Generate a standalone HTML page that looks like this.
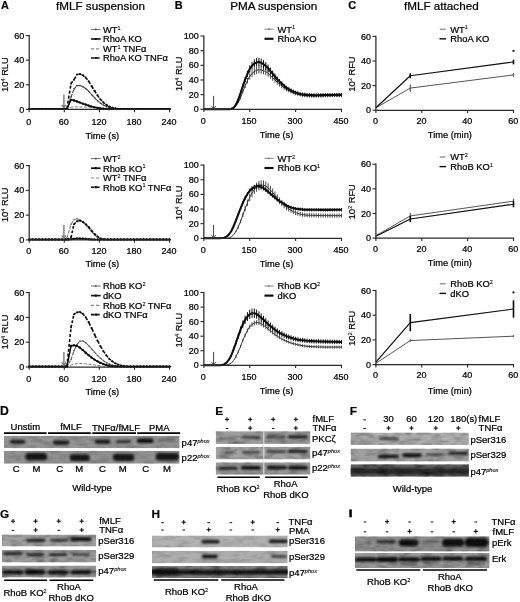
<!DOCTYPE html>
<html><head><meta charset="utf-8"><title>Figure</title>
<style>
html,body{margin:0;padding:0;background:#fff;}
body{width:520px;height:602px;overflow:hidden;font-family:"Liberation Sans",sans-serif;}
svg{display:block;font-family:"Liberation Sans",sans-serif;}
</style></head><body>
<svg width="520" height="602" viewBox="0 0 520 602">
<defs>
<filter id="bl" x="-20%" y="-50%" width="140%" height="200%"><feGaussianBlur stdDeviation="1.1 0.8"/></filter>
<filter id="noise" x="0" y="0" width="100%" height="100%"><feTurbulence type="fractalNoise" baseFrequency="0.09 0.22" numOctaves="2" seed="7"/><feColorMatrix type="matrix" values="0 0 0 0 0  0 0 0 0 0  0 0 0 0 0  1.1 1.1 0 0 -0.95"/></filter>
<filter id="soft" x="0" y="0" width="100%" height="100%"><feGaussianBlur stdDeviation="0.35"/></filter>
</defs>
<rect width="520" height="602" fill="#fff"/>
<g filter="url(#soft)">
<polyline points="29.20,108.97 32.46,108.97 35.73,108.97 38.99,108.97 42.26,108.97 45.52,108.97 48.79,108.97 52.05,108.97 55.31,108.97 58.58,108.97 61.84,108.97 65.11,108.97 66.93,109.03 71.03,107.31 73.95,106.94 76.88,106.94 79.80,106.94 82.73,106.94 85.65,107.06 88.58,107.19 91.50,107.31 94.43,107.56 97.35,107.80 100.28,108.17 103.20,108.54 106.13,108.91 107.54,108.97 110.81,108.97 114.07,108.97 117.34,108.97 120.60,108.97 123.86,108.97 127.13,108.97 130.39,108.97 133.66,108.97 136.92,108.97 140.19,108.97 143.45,108.97 146.71,108.97 149.98,108.97 153.24,108.97 156.51,108.97 159.77,108.97 163.04,108.97 166.30,108.97 169.56,108.97" fill="none" stroke="#777" stroke-width="1.0" stroke-dasharray="3 1.6" stroke-linejoin="round" />
<path d="M29.20,108.97L31.62,108.97 M32.46,108.97L34.88,108.97 M35.73,108.97L38.14,108.97 M38.99,108.97L41.41,108.97 M42.26,108.97L44.67,108.97 M45.52,108.97L47.94,108.97 M48.79,108.97L51.20,108.97 M52.05,108.97L54.47,108.97 M55.31,108.97L57.73,108.97 M58.58,108.97L60.99,108.97 M61.84,108.97L64.26,108.97 M65.11,108.97L66.46,108.83 M66.93,108.79L68.45,104.46 M68.98,102.94L70.50,98.62 M71.03,97.10L72.11,94.14 M72.49,93.10L73.57,90.14 M73.95,89.11L76.12,86.56 M76.88,85.66L79.04,85.48 M79.80,85.42L81.97,86.23 M82.73,86.52L84.89,87.98 M85.65,88.49L87.82,90.49 M88.58,91.20L90.74,93.56 M91.50,94.39L93.67,96.76 M94.43,97.59L96.59,99.78 M97.35,100.54L99.52,102.36 M100.28,103.00L102.44,104.46 M103.20,104.97L105.37,106.06 M106.13,106.45L108.29,107.18 M109.05,107.43L111.22,107.98 M111.98,108.17L114.14,108.53 M114.90,108.66L117.07,108.94 M117.83,109.03L119.88,108.99 M120.60,108.97L123.02,108.97 M123.86,108.97L126.28,108.97 M127.13,108.97L129.54,108.97 M130.39,108.97L132.81,108.97 M133.66,108.97L136.07,108.97 M136.92,108.97L139.34,108.97 M140.19,108.97L142.60,108.97 M143.45,108.97L145.87,108.97 M146.71,108.97L149.13,108.97 M149.98,108.97L152.39,108.97 M153.24,108.97L155.66,108.97 M156.51,108.97L158.92,108.97 M159.77,108.97L162.19,108.97 M163.04,108.97L165.45,108.97 M166.30,108.97L168.72,108.97" fill="none" stroke="#404040" stroke-width="1.15"/>
<rect x="28.45" y="108.22" width="1.50" height="1.50" rx="0.38" fill="#404040"/>
<rect x="31.71" y="108.22" width="1.50" height="1.50" rx="0.38" fill="#404040"/>
<rect x="34.98" y="108.22" width="1.50" height="1.50" rx="0.38" fill="#404040"/>
<rect x="38.24" y="108.22" width="1.50" height="1.50" rx="0.38" fill="#404040"/>
<rect x="41.51" y="108.22" width="1.50" height="1.50" rx="0.38" fill="#404040"/>
<rect x="44.77" y="108.22" width="1.50" height="1.50" rx="0.38" fill="#404040"/>
<rect x="48.04" y="108.22" width="1.50" height="1.50" rx="0.38" fill="#404040"/>
<rect x="51.30" y="108.22" width="1.50" height="1.50" rx="0.38" fill="#404040"/>
<rect x="54.56" y="108.22" width="1.50" height="1.50" rx="0.38" fill="#404040"/>
<rect x="57.83" y="108.22" width="1.50" height="1.50" rx="0.38" fill="#404040"/>
<rect x="61.09" y="108.22" width="1.50" height="1.50" rx="0.38" fill="#404040"/>
<rect x="64.36" y="108.22" width="1.50" height="1.50" rx="0.38" fill="#404040"/>
<rect x="66.18" y="108.04" width="1.50" height="1.50" rx="0.38" fill="#404040"/>
<rect x="70.28" y="96.35" width="1.50" height="1.50" rx="0.38" fill="#404040"/>
<rect x="73.20" y="88.36" width="1.50" height="1.50" rx="0.38" fill="#404040"/>
<rect x="76.13" y="84.91" width="1.50" height="1.50" rx="0.38" fill="#404040"/>
<rect x="79.05" y="84.67" width="1.50" height="1.50" rx="0.38" fill="#404040"/>
<rect x="81.98" y="85.77" width="1.50" height="1.50" rx="0.38" fill="#404040"/>
<rect x="84.90" y="87.74" width="1.50" height="1.50" rx="0.38" fill="#404040"/>
<rect x="87.83" y="90.45" width="1.50" height="1.50" rx="0.38" fill="#404040"/>
<rect x="90.75" y="93.64" width="1.50" height="1.50" rx="0.38" fill="#404040"/>
<rect x="93.68" y="96.84" width="1.50" height="1.50" rx="0.38" fill="#404040"/>
<rect x="96.60" y="99.79" width="1.50" height="1.50" rx="0.38" fill="#404040"/>
<rect x="99.53" y="102.25" width="1.50" height="1.50" rx="0.38" fill="#404040"/>
<rect x="102.45" y="104.22" width="1.50" height="1.50" rx="0.38" fill="#404040"/>
<rect x="105.38" y="105.70" width="1.50" height="1.50" rx="0.38" fill="#404040"/>
<rect x="108.30" y="106.68" width="1.50" height="1.50" rx="0.38" fill="#404040"/>
<rect x="111.23" y="107.42" width="1.50" height="1.50" rx="0.38" fill="#404040"/>
<rect x="114.15" y="107.91" width="1.50" height="1.50" rx="0.38" fill="#404040"/>
<rect x="117.08" y="108.28" width="1.50" height="1.50" rx="0.38" fill="#404040"/>
<rect x="119.85" y="108.22" width="1.50" height="1.50" rx="0.38" fill="#404040"/>
<rect x="123.11" y="108.22" width="1.50" height="1.50" rx="0.38" fill="#404040"/>
<rect x="126.38" y="108.22" width="1.50" height="1.50" rx="0.38" fill="#404040"/>
<rect x="129.64" y="108.22" width="1.50" height="1.50" rx="0.38" fill="#404040"/>
<rect x="132.91" y="108.22" width="1.50" height="1.50" rx="0.38" fill="#404040"/>
<rect x="136.17" y="108.22" width="1.50" height="1.50" rx="0.38" fill="#404040"/>
<rect x="139.44" y="108.22" width="1.50" height="1.50" rx="0.38" fill="#404040"/>
<rect x="142.70" y="108.22" width="1.50" height="1.50" rx="0.38" fill="#404040"/>
<rect x="145.96" y="108.22" width="1.50" height="1.50" rx="0.38" fill="#404040"/>
<rect x="149.23" y="108.22" width="1.50" height="1.50" rx="0.38" fill="#404040"/>
<rect x="152.49" y="108.22" width="1.50" height="1.50" rx="0.38" fill="#404040"/>
<rect x="155.76" y="108.22" width="1.50" height="1.50" rx="0.38" fill="#404040"/>
<rect x="159.02" y="108.22" width="1.50" height="1.50" rx="0.38" fill="#404040"/>
<rect x="162.29" y="108.22" width="1.50" height="1.50" rx="0.38" fill="#404040"/>
<rect x="165.55" y="108.22" width="1.50" height="1.50" rx="0.38" fill="#404040"/>
<rect x="168.81" y="108.22" width="1.50" height="1.50" rx="0.38" fill="#404040"/>
<polyline points="29.20,108.97 32.46,108.97 35.73,108.97 38.99,108.97 42.26,108.97 45.52,108.97 48.79,108.97 52.05,108.97 55.31,108.97 58.58,108.97 61.84,108.97 65.11,108.97 66.93,109.03 71.03,99.81 73.95,100.42 76.88,101.41 79.80,102.51 82.73,103.62 85.65,104.60 88.58,105.59 91.50,106.45 94.43,107.19 97.35,107.80 100.28,108.29 103.20,108.66 106.13,108.91 109.05,109.15 110.81,108.97 114.07,108.97 117.34,108.97 120.60,108.97 123.86,108.97 127.13,108.97 130.39,108.97 133.66,108.97 136.92,108.97 140.19,108.97 143.45,108.97 146.71,108.97 149.98,108.97 153.24,108.97 156.51,108.97 159.77,108.97 163.04,108.97 166.30,108.97 169.56,108.97" fill="none" stroke="#0a0a0a" stroke-width="1.55"  stroke-linejoin="round" />
<rect x="28.15" y="107.92" width="2.10" height="2.10" rx="0.53" fill="#0a0a0a"/>
<rect x="31.41" y="107.92" width="2.10" height="2.10" rx="0.53" fill="#0a0a0a"/>
<rect x="34.68" y="107.92" width="2.10" height="2.10" rx="0.53" fill="#0a0a0a"/>
<rect x="37.94" y="107.92" width="2.10" height="2.10" rx="0.53" fill="#0a0a0a"/>
<rect x="41.21" y="107.92" width="2.10" height="2.10" rx="0.53" fill="#0a0a0a"/>
<rect x="44.47" y="107.92" width="2.10" height="2.10" rx="0.53" fill="#0a0a0a"/>
<rect x="47.74" y="107.92" width="2.10" height="2.10" rx="0.53" fill="#0a0a0a"/>
<rect x="51.00" y="107.92" width="2.10" height="2.10" rx="0.53" fill="#0a0a0a"/>
<rect x="54.26" y="107.92" width="2.10" height="2.10" rx="0.53" fill="#0a0a0a"/>
<rect x="57.53" y="107.92" width="2.10" height="2.10" rx="0.53" fill="#0a0a0a"/>
<rect x="60.79" y="107.92" width="2.10" height="2.10" rx="0.53" fill="#0a0a0a"/>
<rect x="64.06" y="107.92" width="2.10" height="2.10" rx="0.53" fill="#0a0a0a"/>
<rect x="65.88" y="107.98" width="2.10" height="2.10" rx="0.53" fill="#0a0a0a"/>
<rect x="69.98" y="98.76" width="2.10" height="2.10" rx="0.53" fill="#0a0a0a"/>
<rect x="72.90" y="99.37" width="2.10" height="2.10" rx="0.53" fill="#0a0a0a"/>
<rect x="75.83" y="100.36" width="2.10" height="2.10" rx="0.53" fill="#0a0a0a"/>
<rect x="78.75" y="101.46" width="2.10" height="2.10" rx="0.53" fill="#0a0a0a"/>
<rect x="81.68" y="102.57" width="2.10" height="2.10" rx="0.53" fill="#0a0a0a"/>
<rect x="84.60" y="103.55" width="2.10" height="2.10" rx="0.53" fill="#0a0a0a"/>
<rect x="87.53" y="104.54" width="2.10" height="2.10" rx="0.53" fill="#0a0a0a"/>
<rect x="90.45" y="105.40" width="2.10" height="2.10" rx="0.53" fill="#0a0a0a"/>
<rect x="93.38" y="106.14" width="2.10" height="2.10" rx="0.53" fill="#0a0a0a"/>
<rect x="96.30" y="106.75" width="2.10" height="2.10" rx="0.53" fill="#0a0a0a"/>
<rect x="99.23" y="107.24" width="2.10" height="2.10" rx="0.53" fill="#0a0a0a"/>
<rect x="102.15" y="107.61" width="2.10" height="2.10" rx="0.53" fill="#0a0a0a"/>
<rect x="105.08" y="107.86" width="2.10" height="2.10" rx="0.53" fill="#0a0a0a"/>
<rect x="108.00" y="108.10" width="2.10" height="2.10" rx="0.53" fill="#0a0a0a"/>
<rect x="109.76" y="107.92" width="2.10" height="2.10" rx="0.53" fill="#0a0a0a"/>
<rect x="113.02" y="107.92" width="2.10" height="2.10" rx="0.53" fill="#0a0a0a"/>
<rect x="116.29" y="107.92" width="2.10" height="2.10" rx="0.53" fill="#0a0a0a"/>
<rect x="119.55" y="107.92" width="2.10" height="2.10" rx="0.53" fill="#0a0a0a"/>
<rect x="122.81" y="107.92" width="2.10" height="2.10" rx="0.53" fill="#0a0a0a"/>
<rect x="126.08" y="107.92" width="2.10" height="2.10" rx="0.53" fill="#0a0a0a"/>
<rect x="129.34" y="107.92" width="2.10" height="2.10" rx="0.53" fill="#0a0a0a"/>
<rect x="132.61" y="107.92" width="2.10" height="2.10" rx="0.53" fill="#0a0a0a"/>
<rect x="135.87" y="107.92" width="2.10" height="2.10" rx="0.53" fill="#0a0a0a"/>
<rect x="139.14" y="107.92" width="2.10" height="2.10" rx="0.53" fill="#0a0a0a"/>
<rect x="142.40" y="107.92" width="2.10" height="2.10" rx="0.53" fill="#0a0a0a"/>
<rect x="145.66" y="107.92" width="2.10" height="2.10" rx="0.53" fill="#0a0a0a"/>
<rect x="148.93" y="107.92" width="2.10" height="2.10" rx="0.53" fill="#0a0a0a"/>
<rect x="152.19" y="107.92" width="2.10" height="2.10" rx="0.53" fill="#0a0a0a"/>
<rect x="155.46" y="107.92" width="2.10" height="2.10" rx="0.53" fill="#0a0a0a"/>
<rect x="158.72" y="107.92" width="2.10" height="2.10" rx="0.53" fill="#0a0a0a"/>
<rect x="161.99" y="107.92" width="2.10" height="2.10" rx="0.53" fill="#0a0a0a"/>
<rect x="165.25" y="107.92" width="2.10" height="2.10" rx="0.53" fill="#0a0a0a"/>
<rect x="168.51" y="107.92" width="2.10" height="2.10" rx="0.53" fill="#0a0a0a"/>
<path d="M29.20,108.97L31.16,108.97 M32.46,108.97L34.42,108.97 M35.73,108.97L37.69,108.97 M38.99,108.97L40.95,108.97 M42.26,108.97L44.22,108.97 M45.52,108.97L47.48,108.97 M48.79,108.97L50.74,108.97 M52.05,108.97L54.01,108.97 M55.31,108.97L57.27,108.97 M58.58,108.97L60.54,108.97 M61.84,108.97L63.80,108.97 M65.11,108.97L66.20,108.86 M66.93,108.79L67.42,105.76 M67.75,103.74L68.24,100.72 M68.57,98.70L69.06,95.67 M69.39,93.66L69.88,90.63 M70.21,88.61L70.70,85.59 M71.03,83.57L72.78,81.36 M73.95,79.88L75.71,76.71 M76.88,74.59L78.63,74.22 M79.80,73.98L81.56,74.71 M82.73,75.21L84.48,76.53 M85.65,77.42L87.41,79.63 M88.58,81.11L90.33,83.91 M91.50,85.78L93.26,88.74 M94.43,90.70L96.18,93.43 M97.35,95.25L99.11,97.62 M100.28,99.19L102.03,101.04 M103.20,102.27L104.96,103.74 M106.13,104.73L107.88,105.76 M109.05,106.45L110.81,107.11 M111.98,107.56L113.73,108.00 M114.90,108.29L116.66,108.59 M117.83,108.79L119.58,108.93 M120.75,109.03L122.62,108.99 M123.86,108.97L125.82,108.97 M127.13,108.97L129.09,108.97 M130.39,108.97L132.35,108.97 M133.66,108.97L135.62,108.97 M136.92,108.97L138.88,108.97 M140.19,108.97L142.14,108.97 M143.45,108.97L145.41,108.97 M146.71,108.97L148.67,108.97 M149.98,108.97L151.94,108.97 M153.24,108.97L155.20,108.97 M156.51,108.97L158.47,108.97 M159.77,108.97L161.73,108.97 M163.04,108.97L164.99,108.97 M166.30,108.97L168.26,108.97" fill="none" stroke="#0a0a0a" stroke-width="1.6"/>
<rect x="28.30" y="108.07" width="1.80" height="1.80" rx="0.45" fill="#0a0a0a"/>
<rect x="31.56" y="108.07" width="1.80" height="1.80" rx="0.45" fill="#0a0a0a"/>
<rect x="34.83" y="108.07" width="1.80" height="1.80" rx="0.45" fill="#0a0a0a"/>
<rect x="38.09" y="108.07" width="1.80" height="1.80" rx="0.45" fill="#0a0a0a"/>
<rect x="41.36" y="108.07" width="1.80" height="1.80" rx="0.45" fill="#0a0a0a"/>
<rect x="44.62" y="108.07" width="1.80" height="1.80" rx="0.45" fill="#0a0a0a"/>
<rect x="47.89" y="108.07" width="1.80" height="1.80" rx="0.45" fill="#0a0a0a"/>
<rect x="51.15" y="108.07" width="1.80" height="1.80" rx="0.45" fill="#0a0a0a"/>
<rect x="54.41" y="108.07" width="1.80" height="1.80" rx="0.45" fill="#0a0a0a"/>
<rect x="57.68" y="108.07" width="1.80" height="1.80" rx="0.45" fill="#0a0a0a"/>
<rect x="60.94" y="108.07" width="1.80" height="1.80" rx="0.45" fill="#0a0a0a"/>
<rect x="64.21" y="108.07" width="1.80" height="1.80" rx="0.45" fill="#0a0a0a"/>
<rect x="66.03" y="107.89" width="1.80" height="1.80" rx="0.45" fill="#0a0a0a"/>
<rect x="70.13" y="82.67" width="1.80" height="1.80" rx="0.45" fill="#0a0a0a"/>
<rect x="73.05" y="78.98" width="1.80" height="1.80" rx="0.45" fill="#0a0a0a"/>
<rect x="75.98" y="73.69" width="1.80" height="1.80" rx="0.45" fill="#0a0a0a"/>
<rect x="78.90" y="73.08" width="1.80" height="1.80" rx="0.45" fill="#0a0a0a"/>
<rect x="81.83" y="74.31" width="1.80" height="1.80" rx="0.45" fill="#0a0a0a"/>
<rect x="84.75" y="76.52" width="1.80" height="1.80" rx="0.45" fill="#0a0a0a"/>
<rect x="87.68" y="80.21" width="1.80" height="1.80" rx="0.45" fill="#0a0a0a"/>
<rect x="90.60" y="84.88" width="1.80" height="1.80" rx="0.45" fill="#0a0a0a"/>
<rect x="93.53" y="89.80" width="1.80" height="1.80" rx="0.45" fill="#0a0a0a"/>
<rect x="96.45" y="94.35" width="1.80" height="1.80" rx="0.45" fill="#0a0a0a"/>
<rect x="99.38" y="98.29" width="1.80" height="1.80" rx="0.45" fill="#0a0a0a"/>
<rect x="102.30" y="101.37" width="1.80" height="1.80" rx="0.45" fill="#0a0a0a"/>
<rect x="105.23" y="103.83" width="1.80" height="1.80" rx="0.45" fill="#0a0a0a"/>
<rect x="108.15" y="105.55" width="1.80" height="1.80" rx="0.45" fill="#0a0a0a"/>
<rect x="111.08" y="106.66" width="1.80" height="1.80" rx="0.45" fill="#0a0a0a"/>
<rect x="114.00" y="107.39" width="1.80" height="1.80" rx="0.45" fill="#0a0a0a"/>
<rect x="116.93" y="107.89" width="1.80" height="1.80" rx="0.45" fill="#0a0a0a"/>
<rect x="119.85" y="108.13" width="1.80" height="1.80" rx="0.45" fill="#0a0a0a"/>
<rect x="122.96" y="108.07" width="1.80" height="1.80" rx="0.45" fill="#0a0a0a"/>
<rect x="126.23" y="108.07" width="1.80" height="1.80" rx="0.45" fill="#0a0a0a"/>
<rect x="129.49" y="108.07" width="1.80" height="1.80" rx="0.45" fill="#0a0a0a"/>
<rect x="132.76" y="108.07" width="1.80" height="1.80" rx="0.45" fill="#0a0a0a"/>
<rect x="136.02" y="108.07" width="1.80" height="1.80" rx="0.45" fill="#0a0a0a"/>
<rect x="139.29" y="108.07" width="1.80" height="1.80" rx="0.45" fill="#0a0a0a"/>
<rect x="142.55" y="108.07" width="1.80" height="1.80" rx="0.45" fill="#0a0a0a"/>
<rect x="145.81" y="108.07" width="1.80" height="1.80" rx="0.45" fill="#0a0a0a"/>
<rect x="149.08" y="108.07" width="1.80" height="1.80" rx="0.45" fill="#0a0a0a"/>
<rect x="152.34" y="108.07" width="1.80" height="1.80" rx="0.45" fill="#0a0a0a"/>
<rect x="155.61" y="108.07" width="1.80" height="1.80" rx="0.45" fill="#0a0a0a"/>
<rect x="158.87" y="108.07" width="1.80" height="1.80" rx="0.45" fill="#0a0a0a"/>
<rect x="162.14" y="108.07" width="1.80" height="1.80" rx="0.45" fill="#0a0a0a"/>
<rect x="165.40" y="108.07" width="1.80" height="1.80" rx="0.45" fill="#0a0a0a"/>
<rect x="168.66" y="108.07" width="1.80" height="1.80" rx="0.45" fill="#0a0a0a"/>
<line x1="29.20" y1="35.00" x2="29.20" y2="110.00" stroke="#2a2a2a" stroke-width="1.25" />
<line x1="28.60" y1="109.40" x2="170.20" y2="109.40" stroke="#2a2a2a" stroke-width="1.25" />
<line x1="25.80" y1="109.40" x2="29.20" y2="109.40" stroke="#2a2a2a" stroke-width="1.1" />
<text x="24.2" y="112.5" font-size="9.0" text-anchor="end" font-weight="normal" fill="#000" stroke="#000" stroke-width="0.24" >0</text>
<line x1="25.80" y1="84.80" x2="29.20" y2="84.80" stroke="#2a2a2a" stroke-width="1.1" />
<text x="24.2" y="87.8" font-size="9.0" text-anchor="end" font-weight="normal" fill="#000" stroke="#000" stroke-width="0.24" >20</text>
<line x1="25.80" y1="60.20" x2="29.20" y2="60.20" stroke="#2a2a2a" stroke-width="1.1" />
<text x="24.2" y="63.2" font-size="9.0" text-anchor="end" font-weight="normal" fill="#000" stroke="#000" stroke-width="0.24" >40</text>
<line x1="25.80" y1="35.60" x2="29.20" y2="35.60" stroke="#2a2a2a" stroke-width="1.1" />
<text x="24.2" y="38.6" font-size="9.0" text-anchor="end" font-weight="normal" fill="#000" stroke="#000" stroke-width="0.24" >60</text>
<line x1="29.20" y1="109.40" x2="29.20" y2="112.20" stroke="#2a2a2a" stroke-width="1.1" />
<text x="28.7" y="125.1" font-size="9.0" text-anchor="middle" font-weight="normal" fill="#000" stroke="#000" stroke-width="0.24" >0</text>
<line x1="64.30" y1="109.40" x2="64.30" y2="112.20" stroke="#2a2a2a" stroke-width="1.1" />
<text x="63.8" y="125.1" font-size="9.0" text-anchor="middle" font-weight="normal" fill="#000" stroke="#000" stroke-width="0.24" >60</text>
<line x1="99.40" y1="109.40" x2="99.40" y2="112.20" stroke="#2a2a2a" stroke-width="1.1" />
<text x="98.9" y="125.1" font-size="9.0" text-anchor="middle" font-weight="normal" fill="#000" stroke="#000" stroke-width="0.24" >120</text>
<line x1="134.50" y1="109.40" x2="134.50" y2="112.20" stroke="#2a2a2a" stroke-width="1.1" />
<text x="134.0" y="125.1" font-size="9.0" text-anchor="middle" font-weight="normal" fill="#000" stroke="#000" stroke-width="0.24" >180</text>
<line x1="169.60" y1="109.40" x2="169.60" y2="112.20" stroke="#2a2a2a" stroke-width="1.1" />
<text x="169.1" y="125.1" font-size="9.0" text-anchor="middle" font-weight="normal" fill="#000" stroke="#000" stroke-width="0.24" >240</text>
<text x="102.3" y="138.8" font-size="9.3" text-anchor="middle" font-weight="normal" fill="#000" stroke="#000" stroke-width="0.24" >Time (s)</text>
<text transform="translate(8.3,74.7) rotate(-90)" font-size="9.7" text-anchor="middle" fill="#000" stroke="#000" stroke-width="0.2">10<tspan dy="-3.4" font-size="5.2" stroke-width="0.1" >4</tspan><tspan dy="3.4" font-size="9.3"> RLU</tspan></text>
<line x1="63.90" y1="94.40" x2="63.90" y2="107.50" stroke="#707070" stroke-width="1.3" />
<polyline points="61.70,104.90 63.90,107.50 66.10,104.90" fill="none" stroke="#707070" stroke-width="1.3"  stroke-linejoin="round" />
<polyline points="91.00,29.40 100.60,29.40" fill="none" stroke="#444" stroke-width="0.8"  stroke-linejoin="round" />
<rect x="95.00" y="28.60" width="1.60" height="1.60" rx="0.40" fill="#444"/>
<text x="102.9" y="32.7" font-size="9.35" text-anchor="start" font-weight="normal" fill="#000" stroke="#000" stroke-width="0.24" >WT<tspan dy="-3.2" font-size="5.5" stroke-width="0.1" >1</tspan></text>
<polyline points="91.00,39.00 100.60,39.00" fill="none" stroke="#0a0a0a" stroke-width="1.6"  stroke-linejoin="round" />
<rect x="94.70" y="37.90" width="2.20" height="2.20" rx="0.55" fill="#0a0a0a"/>
<text x="102.9" y="42.3" font-size="9.35" text-anchor="start" font-weight="normal" fill="#000" stroke="#000" stroke-width="0.24" >RhoA KO</text>
<polyline points="91.00,48.80 100.60,48.80" fill="none" stroke="#8a8a8a" stroke-width="1.2" stroke-dasharray="3.2 1.8" stroke-linejoin="round" />
<text x="102.9" y="52.1" font-size="9.35" text-anchor="start" font-weight="normal" fill="#000" stroke="#000" stroke-width="0.24" >WT<tspan dy="-3.2" font-size="5.5" stroke-width="0.1" >1</tspan><tspan dy="3.2" font-size="9.35"> TNFα</tspan></text>
<polyline points="91.00,58.00 100.60,58.00" fill="none" stroke="#0a0a0a" stroke-width="1.6" stroke-dasharray="3.6 1.4" stroke-linejoin="round" />
<rect x="94.70" y="56.90" width="2.20" height="2.20" rx="0.55" fill="#0a0a0a"/>
<text x="102.9" y="61.3" font-size="9.35" text-anchor="start" font-weight="normal" fill="#000" stroke="#000" stroke-width="0.24" >RhoA KO TNFα</text>
<polyline points="29.20,239.47 32.46,239.47 35.73,239.47 38.99,239.47 42.26,239.47 45.52,239.47 48.79,239.47 52.05,239.47 55.31,239.47 58.58,239.47 61.84,239.47 65.11,239.47 68.37,239.47 71.03,239.28 73.95,238.91 76.88,238.66 79.80,238.66 82.73,238.79 85.65,238.91 88.58,239.16 91.50,239.28 94.43,239.53 97.75,239.47 101.01,239.47 104.28,239.47 107.54,239.47 110.81,239.47 114.07,239.47 117.34,239.47 120.60,239.47 123.86,239.47 127.13,239.47 130.39,239.47 133.66,239.47 136.92,239.47 140.19,239.47 143.45,239.47 146.71,239.47 149.98,239.47 153.24,239.47 156.51,239.47 159.77,239.47 163.04,239.47 166.30,239.47 169.56,239.47" fill="none" stroke="#777" stroke-width="1.0" stroke-dasharray="3 1.6" stroke-linejoin="round" />
<path d="M29.20,239.47L31.62,239.47 M32.46,239.47L34.88,239.47 M35.73,239.47L38.14,239.47 M38.99,239.47L41.41,239.47 M42.26,239.47L44.67,239.47 M45.52,239.47L47.94,239.47 M48.79,239.47L51.20,239.47 M52.05,239.47L54.47,239.47 M55.31,239.47L57.73,239.47 M58.58,239.47L60.99,239.47 M61.84,239.47L64.31,239.51 M65.18,239.53L66.48,238.43 M66.93,238.04L67.94,234.68 M68.30,233.50L69.31,230.14 M69.66,228.96L70.67,225.60 M71.03,224.42L73.19,220.94 M73.95,219.72L76.12,219.07 M76.88,218.85L79.04,219.58 M79.80,219.84L81.97,221.40 M82.73,221.94L84.89,224.05 M85.65,224.79L87.82,227.17 M88.58,228.01L90.74,230.58 M91.50,231.48L93.67,233.86 M94.43,234.70L96.59,236.44 M97.35,237.05L99.52,238.24 M100.28,238.66L102.44,239.12 M103.20,239.28L106.41,239.42 M107.54,239.47L109.96,239.47 M110.81,239.47L113.22,239.47 M114.07,239.47L116.49,239.47 M117.34,239.47L119.75,239.47 M120.60,239.47L123.02,239.47 M123.86,239.47L126.28,239.47 M127.13,239.47L129.54,239.47 M130.39,239.47L132.81,239.47 M133.66,239.47L136.07,239.47 M136.92,239.47L139.34,239.47 M140.19,239.47L142.60,239.47 M143.45,239.47L145.87,239.47 M146.71,239.47L149.13,239.47 M149.98,239.47L152.39,239.47 M153.24,239.47L155.66,239.47 M156.51,239.47L158.92,239.47 M159.77,239.47L162.19,239.47 M163.04,239.47L165.45,239.47 M166.30,239.47L168.72,239.47" fill="none" stroke="#808080" stroke-width="1.15"/>
<rect x="28.45" y="238.72" width="1.50" height="1.50" rx="0.38" fill="#808080"/>
<rect x="31.71" y="238.72" width="1.50" height="1.50" rx="0.38" fill="#808080"/>
<rect x="34.98" y="238.72" width="1.50" height="1.50" rx="0.38" fill="#808080"/>
<rect x="38.24" y="238.72" width="1.50" height="1.50" rx="0.38" fill="#808080"/>
<rect x="41.51" y="238.72" width="1.50" height="1.50" rx="0.38" fill="#808080"/>
<rect x="44.77" y="238.72" width="1.50" height="1.50" rx="0.38" fill="#808080"/>
<rect x="48.04" y="238.72" width="1.50" height="1.50" rx="0.38" fill="#808080"/>
<rect x="51.30" y="238.72" width="1.50" height="1.50" rx="0.38" fill="#808080"/>
<rect x="54.56" y="238.72" width="1.50" height="1.50" rx="0.38" fill="#808080"/>
<rect x="57.83" y="238.72" width="1.50" height="1.50" rx="0.38" fill="#808080"/>
<rect x="61.09" y="238.72" width="1.50" height="1.50" rx="0.38" fill="#808080"/>
<rect x="64.43" y="238.78" width="1.50" height="1.50" rx="0.38" fill="#808080"/>
<rect x="66.18" y="237.29" width="1.50" height="1.50" rx="0.38" fill="#808080"/>
<rect x="70.28" y="223.67" width="1.50" height="1.50" rx="0.38" fill="#808080"/>
<rect x="73.20" y="218.97" width="1.50" height="1.50" rx="0.38" fill="#808080"/>
<rect x="76.13" y="218.10" width="1.50" height="1.50" rx="0.38" fill="#808080"/>
<rect x="79.05" y="219.09" width="1.50" height="1.50" rx="0.38" fill="#808080"/>
<rect x="81.98" y="221.19" width="1.50" height="1.50" rx="0.38" fill="#808080"/>
<rect x="84.90" y="224.04" width="1.50" height="1.50" rx="0.38" fill="#808080"/>
<rect x="87.83" y="227.26" width="1.50" height="1.50" rx="0.38" fill="#808080"/>
<rect x="90.75" y="230.73" width="1.50" height="1.50" rx="0.38" fill="#808080"/>
<rect x="93.68" y="233.95" width="1.50" height="1.50" rx="0.38" fill="#808080"/>
<rect x="96.60" y="236.30" width="1.50" height="1.50" rx="0.38" fill="#808080"/>
<rect x="99.53" y="237.91" width="1.50" height="1.50" rx="0.38" fill="#808080"/>
<rect x="102.45" y="238.53" width="1.50" height="1.50" rx="0.38" fill="#808080"/>
<rect x="106.79" y="238.72" width="1.50" height="1.50" rx="0.38" fill="#808080"/>
<rect x="110.06" y="238.72" width="1.50" height="1.50" rx="0.38" fill="#808080"/>
<rect x="113.32" y="238.72" width="1.50" height="1.50" rx="0.38" fill="#808080"/>
<rect x="116.59" y="238.72" width="1.50" height="1.50" rx="0.38" fill="#808080"/>
<rect x="119.85" y="238.72" width="1.50" height="1.50" rx="0.38" fill="#808080"/>
<rect x="123.11" y="238.72" width="1.50" height="1.50" rx="0.38" fill="#808080"/>
<rect x="126.38" y="238.72" width="1.50" height="1.50" rx="0.38" fill="#808080"/>
<rect x="129.64" y="238.72" width="1.50" height="1.50" rx="0.38" fill="#808080"/>
<rect x="132.91" y="238.72" width="1.50" height="1.50" rx="0.38" fill="#808080"/>
<rect x="136.17" y="238.72" width="1.50" height="1.50" rx="0.38" fill="#808080"/>
<rect x="139.44" y="238.72" width="1.50" height="1.50" rx="0.38" fill="#808080"/>
<rect x="142.70" y="238.72" width="1.50" height="1.50" rx="0.38" fill="#808080"/>
<rect x="145.96" y="238.72" width="1.50" height="1.50" rx="0.38" fill="#808080"/>
<rect x="149.23" y="238.72" width="1.50" height="1.50" rx="0.38" fill="#808080"/>
<rect x="152.49" y="238.72" width="1.50" height="1.50" rx="0.38" fill="#808080"/>
<rect x="155.76" y="238.72" width="1.50" height="1.50" rx="0.38" fill="#808080"/>
<rect x="159.02" y="238.72" width="1.50" height="1.50" rx="0.38" fill="#808080"/>
<rect x="162.29" y="238.72" width="1.50" height="1.50" rx="0.38" fill="#808080"/>
<rect x="165.55" y="238.72" width="1.50" height="1.50" rx="0.38" fill="#808080"/>
<rect x="168.81" y="238.72" width="1.50" height="1.50" rx="0.38" fill="#808080"/>
<polyline points="29.20,239.47 32.46,239.47 35.73,239.47 38.99,239.47 42.26,239.47 45.52,239.47 48.79,239.47 52.05,239.47 55.31,239.47 58.58,239.47 61.84,239.47 65.11,239.47 68.37,239.47 71.03,239.28 73.95,238.79 76.88,238.54 79.80,238.54 82.73,238.66 85.65,238.91 88.58,239.16 91.50,239.40 94.43,239.53 97.75,239.47 101.01,239.47 104.28,239.47 107.54,239.47 110.81,239.47 114.07,239.47 117.34,239.47 120.60,239.47 123.86,239.47 127.13,239.47 130.39,239.47 133.66,239.47 136.92,239.47 140.19,239.47 143.45,239.47 146.71,239.47 149.98,239.47 153.24,239.47 156.51,239.47 159.77,239.47 163.04,239.47 166.30,239.47 169.56,239.47" fill="none" stroke="#0a0a0a" stroke-width="1.55"  stroke-linejoin="round" />
<rect x="28.15" y="238.42" width="2.10" height="2.10" rx="0.53" fill="#0a0a0a"/>
<rect x="31.41" y="238.42" width="2.10" height="2.10" rx="0.53" fill="#0a0a0a"/>
<rect x="34.68" y="238.42" width="2.10" height="2.10" rx="0.53" fill="#0a0a0a"/>
<rect x="37.94" y="238.42" width="2.10" height="2.10" rx="0.53" fill="#0a0a0a"/>
<rect x="41.21" y="238.42" width="2.10" height="2.10" rx="0.53" fill="#0a0a0a"/>
<rect x="44.47" y="238.42" width="2.10" height="2.10" rx="0.53" fill="#0a0a0a"/>
<rect x="47.74" y="238.42" width="2.10" height="2.10" rx="0.53" fill="#0a0a0a"/>
<rect x="51.00" y="238.42" width="2.10" height="2.10" rx="0.53" fill="#0a0a0a"/>
<rect x="54.26" y="238.42" width="2.10" height="2.10" rx="0.53" fill="#0a0a0a"/>
<rect x="57.53" y="238.42" width="2.10" height="2.10" rx="0.53" fill="#0a0a0a"/>
<rect x="60.79" y="238.42" width="2.10" height="2.10" rx="0.53" fill="#0a0a0a"/>
<rect x="64.06" y="238.42" width="2.10" height="2.10" rx="0.53" fill="#0a0a0a"/>
<rect x="67.32" y="238.42" width="2.10" height="2.10" rx="0.53" fill="#0a0a0a"/>
<rect x="69.98" y="238.23" width="2.10" height="2.10" rx="0.53" fill="#0a0a0a"/>
<rect x="72.90" y="237.74" width="2.10" height="2.10" rx="0.53" fill="#0a0a0a"/>
<rect x="75.83" y="237.49" width="2.10" height="2.10" rx="0.53" fill="#0a0a0a"/>
<rect x="78.75" y="237.49" width="2.10" height="2.10" rx="0.53" fill="#0a0a0a"/>
<rect x="81.68" y="237.61" width="2.10" height="2.10" rx="0.53" fill="#0a0a0a"/>
<rect x="84.60" y="237.86" width="2.10" height="2.10" rx="0.53" fill="#0a0a0a"/>
<rect x="87.53" y="238.11" width="2.10" height="2.10" rx="0.53" fill="#0a0a0a"/>
<rect x="90.45" y="238.35" width="2.10" height="2.10" rx="0.53" fill="#0a0a0a"/>
<rect x="93.38" y="238.48" width="2.10" height="2.10" rx="0.53" fill="#0a0a0a"/>
<rect x="96.70" y="238.42" width="2.10" height="2.10" rx="0.53" fill="#0a0a0a"/>
<rect x="99.96" y="238.42" width="2.10" height="2.10" rx="0.53" fill="#0a0a0a"/>
<rect x="103.23" y="238.42" width="2.10" height="2.10" rx="0.53" fill="#0a0a0a"/>
<rect x="106.49" y="238.42" width="2.10" height="2.10" rx="0.53" fill="#0a0a0a"/>
<rect x="109.76" y="238.42" width="2.10" height="2.10" rx="0.53" fill="#0a0a0a"/>
<rect x="113.02" y="238.42" width="2.10" height="2.10" rx="0.53" fill="#0a0a0a"/>
<rect x="116.29" y="238.42" width="2.10" height="2.10" rx="0.53" fill="#0a0a0a"/>
<rect x="119.55" y="238.42" width="2.10" height="2.10" rx="0.53" fill="#0a0a0a"/>
<rect x="122.81" y="238.42" width="2.10" height="2.10" rx="0.53" fill="#0a0a0a"/>
<rect x="126.08" y="238.42" width="2.10" height="2.10" rx="0.53" fill="#0a0a0a"/>
<rect x="129.34" y="238.42" width="2.10" height="2.10" rx="0.53" fill="#0a0a0a"/>
<rect x="132.61" y="238.42" width="2.10" height="2.10" rx="0.53" fill="#0a0a0a"/>
<rect x="135.87" y="238.42" width="2.10" height="2.10" rx="0.53" fill="#0a0a0a"/>
<rect x="139.14" y="238.42" width="2.10" height="2.10" rx="0.53" fill="#0a0a0a"/>
<rect x="142.40" y="238.42" width="2.10" height="2.10" rx="0.53" fill="#0a0a0a"/>
<rect x="145.66" y="238.42" width="2.10" height="2.10" rx="0.53" fill="#0a0a0a"/>
<rect x="148.93" y="238.42" width="2.10" height="2.10" rx="0.53" fill="#0a0a0a"/>
<rect x="152.19" y="238.42" width="2.10" height="2.10" rx="0.53" fill="#0a0a0a"/>
<rect x="155.46" y="238.42" width="2.10" height="2.10" rx="0.53" fill="#0a0a0a"/>
<rect x="158.72" y="238.42" width="2.10" height="2.10" rx="0.53" fill="#0a0a0a"/>
<rect x="161.99" y="238.42" width="2.10" height="2.10" rx="0.53" fill="#0a0a0a"/>
<rect x="165.25" y="238.42" width="2.10" height="2.10" rx="0.53" fill="#0a0a0a"/>
<rect x="168.51" y="238.42" width="2.10" height="2.10" rx="0.53" fill="#0a0a0a"/>
<path d="M29.20,239.47L31.16,239.47 M32.46,239.47L34.42,239.47 M35.73,239.47L37.69,239.47 M38.99,239.47L40.95,239.47 M42.26,239.47L44.22,239.47 M45.52,239.47L47.48,239.47 M48.79,239.47L50.74,239.47 M52.05,239.47L54.01,239.47 M55.31,239.47L57.27,239.47 M58.58,239.47L60.54,239.47 M61.84,239.47L63.80,239.47 M65.11,239.47L66.20,239.50 M66.93,239.53L69.39,238.27 M71.03,237.42L71.61,234.82 M72.00,233.09L72.59,230.49 M72.98,228.76L73.56,226.15 M73.95,224.42L75.71,222.56 M76.88,221.32L78.63,220.95 M79.80,220.71L81.56,221.37 M82.73,221.82L84.48,223.16 M85.65,224.05L87.41,225.83 M88.58,227.02L90.33,229.10 M91.50,230.49L93.26,232.49 M94.43,233.83L96.18,235.39 M97.35,236.43L99.11,237.55 M100.28,238.29L102.03,238.88 M103.20,239.28L105.81,239.39 M107.54,239.47L109.50,239.47 M110.81,239.47L112.77,239.47 M114.07,239.47L116.03,239.47 M117.34,239.47L119.29,239.47 M120.60,239.47L122.56,239.47 M123.86,239.47L125.82,239.47 M127.13,239.47L129.09,239.47 M130.39,239.47L132.35,239.47 M133.66,239.47L135.62,239.47 M136.92,239.47L138.88,239.47 M140.19,239.47L142.14,239.47 M143.45,239.47L145.41,239.47 M146.71,239.47L148.67,239.47 M149.98,239.47L151.94,239.47 M153.24,239.47L155.20,239.47 M156.51,239.47L158.47,239.47 M159.77,239.47L161.73,239.47 M163.04,239.47L164.99,239.47 M166.30,239.47L168.26,239.47" fill="none" stroke="#0a0a0a" stroke-width="1.6"/>
<rect x="28.30" y="238.57" width="1.80" height="1.80" rx="0.45" fill="#0a0a0a"/>
<rect x="31.56" y="238.57" width="1.80" height="1.80" rx="0.45" fill="#0a0a0a"/>
<rect x="34.83" y="238.57" width="1.80" height="1.80" rx="0.45" fill="#0a0a0a"/>
<rect x="38.09" y="238.57" width="1.80" height="1.80" rx="0.45" fill="#0a0a0a"/>
<rect x="41.36" y="238.57" width="1.80" height="1.80" rx="0.45" fill="#0a0a0a"/>
<rect x="44.62" y="238.57" width="1.80" height="1.80" rx="0.45" fill="#0a0a0a"/>
<rect x="47.89" y="238.57" width="1.80" height="1.80" rx="0.45" fill="#0a0a0a"/>
<rect x="51.15" y="238.57" width="1.80" height="1.80" rx="0.45" fill="#0a0a0a"/>
<rect x="54.41" y="238.57" width="1.80" height="1.80" rx="0.45" fill="#0a0a0a"/>
<rect x="57.68" y="238.57" width="1.80" height="1.80" rx="0.45" fill="#0a0a0a"/>
<rect x="60.94" y="238.57" width="1.80" height="1.80" rx="0.45" fill="#0a0a0a"/>
<rect x="64.21" y="238.57" width="1.80" height="1.80" rx="0.45" fill="#0a0a0a"/>
<rect x="66.03" y="238.63" width="1.80" height="1.80" rx="0.45" fill="#0a0a0a"/>
<rect x="70.13" y="236.52" width="1.80" height="1.80" rx="0.45" fill="#0a0a0a"/>
<rect x="73.05" y="223.52" width="1.80" height="1.80" rx="0.45" fill="#0a0a0a"/>
<rect x="75.98" y="220.42" width="1.80" height="1.80" rx="0.45" fill="#0a0a0a"/>
<rect x="78.90" y="219.81" width="1.80" height="1.80" rx="0.45" fill="#0a0a0a"/>
<rect x="81.83" y="220.92" width="1.80" height="1.80" rx="0.45" fill="#0a0a0a"/>
<rect x="84.75" y="223.15" width="1.80" height="1.80" rx="0.45" fill="#0a0a0a"/>
<rect x="87.68" y="226.12" width="1.80" height="1.80" rx="0.45" fill="#0a0a0a"/>
<rect x="90.60" y="229.59" width="1.80" height="1.80" rx="0.45" fill="#0a0a0a"/>
<rect x="93.53" y="232.93" width="1.80" height="1.80" rx="0.45" fill="#0a0a0a"/>
<rect x="96.45" y="235.53" width="1.80" height="1.80" rx="0.45" fill="#0a0a0a"/>
<rect x="99.38" y="237.39" width="1.80" height="1.80" rx="0.45" fill="#0a0a0a"/>
<rect x="102.30" y="238.38" width="1.80" height="1.80" rx="0.45" fill="#0a0a0a"/>
<rect x="106.64" y="238.57" width="1.80" height="1.80" rx="0.45" fill="#0a0a0a"/>
<rect x="109.91" y="238.57" width="1.80" height="1.80" rx="0.45" fill="#0a0a0a"/>
<rect x="113.17" y="238.57" width="1.80" height="1.80" rx="0.45" fill="#0a0a0a"/>
<rect x="116.44" y="238.57" width="1.80" height="1.80" rx="0.45" fill="#0a0a0a"/>
<rect x="119.70" y="238.57" width="1.80" height="1.80" rx="0.45" fill="#0a0a0a"/>
<rect x="122.96" y="238.57" width="1.80" height="1.80" rx="0.45" fill="#0a0a0a"/>
<rect x="126.23" y="238.57" width="1.80" height="1.80" rx="0.45" fill="#0a0a0a"/>
<rect x="129.49" y="238.57" width="1.80" height="1.80" rx="0.45" fill="#0a0a0a"/>
<rect x="132.76" y="238.57" width="1.80" height="1.80" rx="0.45" fill="#0a0a0a"/>
<rect x="136.02" y="238.57" width="1.80" height="1.80" rx="0.45" fill="#0a0a0a"/>
<rect x="139.29" y="238.57" width="1.80" height="1.80" rx="0.45" fill="#0a0a0a"/>
<rect x="142.55" y="238.57" width="1.80" height="1.80" rx="0.45" fill="#0a0a0a"/>
<rect x="145.81" y="238.57" width="1.80" height="1.80" rx="0.45" fill="#0a0a0a"/>
<rect x="149.08" y="238.57" width="1.80" height="1.80" rx="0.45" fill="#0a0a0a"/>
<rect x="152.34" y="238.57" width="1.80" height="1.80" rx="0.45" fill="#0a0a0a"/>
<rect x="155.61" y="238.57" width="1.80" height="1.80" rx="0.45" fill="#0a0a0a"/>
<rect x="158.87" y="238.57" width="1.80" height="1.80" rx="0.45" fill="#0a0a0a"/>
<rect x="162.14" y="238.57" width="1.80" height="1.80" rx="0.45" fill="#0a0a0a"/>
<rect x="165.40" y="238.57" width="1.80" height="1.80" rx="0.45" fill="#0a0a0a"/>
<rect x="168.66" y="238.57" width="1.80" height="1.80" rx="0.45" fill="#0a0a0a"/>
<line x1="29.20" y1="165.00" x2="29.20" y2="240.50" stroke="#2a2a2a" stroke-width="1.25" />
<line x1="28.60" y1="239.90" x2="170.20" y2="239.90" stroke="#2a2a2a" stroke-width="1.25" />
<line x1="25.80" y1="239.90" x2="29.20" y2="239.90" stroke="#2a2a2a" stroke-width="1.1" />
<text x="24.2" y="243.0" font-size="9.0" text-anchor="end" font-weight="normal" fill="#000" stroke="#000" stroke-width="0.24" >0</text>
<line x1="25.80" y1="215.13" x2="29.20" y2="215.13" stroke="#2a2a2a" stroke-width="1.1" />
<text x="24.2" y="218.2" font-size="9.0" text-anchor="end" font-weight="normal" fill="#000" stroke="#000" stroke-width="0.24" >20</text>
<line x1="25.80" y1="190.37" x2="29.20" y2="190.37" stroke="#2a2a2a" stroke-width="1.1" />
<text x="24.2" y="193.4" font-size="9.0" text-anchor="end" font-weight="normal" fill="#000" stroke="#000" stroke-width="0.24" >40</text>
<line x1="25.80" y1="165.60" x2="29.20" y2="165.60" stroke="#2a2a2a" stroke-width="1.1" />
<text x="24.2" y="168.7" font-size="9.0" text-anchor="end" font-weight="normal" fill="#000" stroke="#000" stroke-width="0.24" >60</text>
<line x1="29.20" y1="239.90" x2="29.20" y2="242.70" stroke="#2a2a2a" stroke-width="1.1" />
<text x="28.7" y="253.6" font-size="9.0" text-anchor="middle" font-weight="normal" fill="#000" stroke="#000" stroke-width="0.24" >0</text>
<line x1="64.30" y1="239.90" x2="64.30" y2="242.70" stroke="#2a2a2a" stroke-width="1.1" />
<text x="63.8" y="253.6" font-size="9.0" text-anchor="middle" font-weight="normal" fill="#000" stroke="#000" stroke-width="0.24" >60</text>
<line x1="99.40" y1="239.90" x2="99.40" y2="242.70" stroke="#2a2a2a" stroke-width="1.1" />
<text x="98.9" y="253.6" font-size="9.0" text-anchor="middle" font-weight="normal" fill="#000" stroke="#000" stroke-width="0.24" >120</text>
<line x1="134.50" y1="239.90" x2="134.50" y2="242.70" stroke="#2a2a2a" stroke-width="1.1" />
<text x="134.0" y="253.6" font-size="9.0" text-anchor="middle" font-weight="normal" fill="#000" stroke="#000" stroke-width="0.24" >180</text>
<line x1="169.60" y1="239.90" x2="169.60" y2="242.70" stroke="#2a2a2a" stroke-width="1.1" />
<text x="169.1" y="253.6" font-size="9.0" text-anchor="middle" font-weight="normal" fill="#000" stroke="#000" stroke-width="0.24" >240</text>
<text x="102.3" y="266.8" font-size="9.3" text-anchor="middle" font-weight="normal" fill="#000" stroke="#000" stroke-width="0.24" >Time (s)</text>
<text transform="translate(8.3,204.9) rotate(-90)" font-size="9.7" text-anchor="middle" fill="#000" stroke="#000" stroke-width="0.2">10<tspan dy="-3.4" font-size="5.2" stroke-width="0.1" >4</tspan><tspan dy="3.4" font-size="9.3"> RLU</tspan></text>
<line x1="63.90" y1="224.90" x2="63.90" y2="238.00" stroke="#707070" stroke-width="1.3" />
<polyline points="61.70,235.40 63.90,238.00 66.10,235.40" fill="none" stroke="#707070" stroke-width="1.3"  stroke-linejoin="round" />
<polyline points="91.00,158.60 100.60,158.60" fill="none" stroke="#444" stroke-width="0.8"  stroke-linejoin="round" />
<rect x="95.00" y="157.80" width="1.60" height="1.60" rx="0.40" fill="#444"/>
<text x="102.9" y="161.9" font-size="9.35" text-anchor="start" font-weight="normal" fill="#000" stroke="#000" stroke-width="0.24" >WT<tspan dy="-3.2" font-size="5.5" stroke-width="0.1" >2</tspan></text>
<polyline points="91.00,168.20 100.60,168.20" fill="none" stroke="#0a0a0a" stroke-width="1.6"  stroke-linejoin="round" />
<rect x="94.70" y="167.10" width="2.20" height="2.20" rx="0.55" fill="#0a0a0a"/>
<text x="102.9" y="171.5" font-size="9.35" text-anchor="start" font-weight="normal" fill="#000" stroke="#000" stroke-width="0.24" >RhoB KO<tspan dy="-3.2" font-size="5.5" stroke-width="0.1" >1</tspan></text>
<polyline points="91.00,178.00 100.60,178.00" fill="none" stroke="#8a8a8a" stroke-width="1.2" stroke-dasharray="3.2 1.8" stroke-linejoin="round" />
<text x="102.9" y="181.3" font-size="9.35" text-anchor="start" font-weight="normal" fill="#000" stroke="#000" stroke-width="0.24" >WT<tspan dy="-3.2" font-size="5.5" stroke-width="0.1" >2</tspan><tspan dy="3.2" font-size="9.35"> TNFα</tspan></text>
<polyline points="91.00,187.20 100.60,187.20" fill="none" stroke="#0a0a0a" stroke-width="1.6" stroke-dasharray="3.6 1.4" stroke-linejoin="round" />
<rect x="94.70" y="186.10" width="2.20" height="2.20" rx="0.55" fill="#0a0a0a"/>
<text x="102.9" y="190.5" font-size="9.35" text-anchor="start" font-weight="normal" fill="#000" stroke="#000" stroke-width="0.24" >RhoB KO<tspan dy="-3.2" font-size="5.5" stroke-width="0.1" >1</tspan><tspan dy="3.2" font-size="9.35"> TNFα</tspan></text>
<polyline points="29.20,366.57 32.46,366.57 35.73,366.57 38.99,366.57 42.26,366.57 45.52,366.57 48.79,366.57 52.05,366.57 55.31,366.57 58.58,366.57 61.84,366.57 65.11,366.57 66.93,366.63 71.03,365.14 73.95,364.15 76.88,363.65 79.80,363.53 82.73,363.65 85.65,363.90 88.58,364.27 91.50,364.64 94.43,365.02 97.35,365.39 100.28,365.76 103.20,366.01 106.13,366.26 109.05,366.50 111.98,366.63 114.07,366.57 117.34,366.57 120.60,366.57 123.86,366.57 127.13,366.57 130.39,366.57 133.66,366.57 136.92,366.57 140.19,366.57 143.45,366.57 146.71,366.57 149.98,366.57 153.24,366.57 156.51,366.57 159.77,366.57 163.04,366.57 166.30,366.57 169.56,366.57" fill="none" stroke="#777" stroke-width="1.0" stroke-dasharray="3 1.6" stroke-linejoin="round" />
<path d="M29.20,366.57L31.62,366.57 M32.46,366.57L34.88,366.57 M35.73,366.57L38.14,366.57 M38.99,366.57L41.41,366.57 M42.26,366.57L44.67,366.57 M45.52,366.57L47.94,366.57 M48.79,366.57L51.20,366.57 M52.05,366.57L54.47,366.57 M55.31,366.57L57.73,366.57 M58.58,366.57L60.99,366.57 M61.84,366.57L64.26,366.57 M65.11,366.57L66.46,366.61 M66.93,366.63L68.45,364.01 M68.98,363.09L70.50,360.48 M71.03,359.56L72.11,356.35 M72.49,355.22L73.57,352.01 M73.95,350.88L76.12,346.29 M76.88,344.68L79.04,342.11 M79.80,341.21L81.97,341.02 M82.73,340.96L84.89,342.24 M85.65,342.70L87.82,344.81 M88.58,345.55L90.74,347.93 M91.50,348.77L93.67,351.25 M94.43,352.12L96.59,354.41 M97.35,355.22L99.52,357.33 M100.28,358.07L102.44,359.82 M103.20,360.43L105.37,361.90 M106.13,362.41L108.29,363.51 M109.05,363.90L111.22,364.73 M111.98,365.02L114.14,365.57 M114.90,365.76L117.07,366.13 M117.83,366.26L119.99,366.53 M120.75,366.63L123.06,366.58 M123.86,366.57L126.28,366.57 M127.13,366.57L129.54,366.57 M130.39,366.57L132.81,366.57 M133.66,366.57L136.07,366.57 M136.92,366.57L139.34,366.57 M140.19,366.57L142.60,366.57 M143.45,366.57L145.87,366.57 M146.71,366.57L149.13,366.57 M149.98,366.57L152.39,366.57 M153.24,366.57L155.66,366.57 M156.51,366.57L158.92,366.57 M159.77,366.57L162.19,366.57 M163.04,366.57L165.45,366.57 M166.30,366.57L168.72,366.57" fill="none" stroke="#606060" stroke-width="1.15"/>
<rect x="28.45" y="365.82" width="1.50" height="1.50" rx="0.38" fill="#606060"/>
<rect x="31.71" y="365.82" width="1.50" height="1.50" rx="0.38" fill="#606060"/>
<rect x="34.98" y="365.82" width="1.50" height="1.50" rx="0.38" fill="#606060"/>
<rect x="38.24" y="365.82" width="1.50" height="1.50" rx="0.38" fill="#606060"/>
<rect x="41.51" y="365.82" width="1.50" height="1.50" rx="0.38" fill="#606060"/>
<rect x="44.77" y="365.82" width="1.50" height="1.50" rx="0.38" fill="#606060"/>
<rect x="48.04" y="365.82" width="1.50" height="1.50" rx="0.38" fill="#606060"/>
<rect x="51.30" y="365.82" width="1.50" height="1.50" rx="0.38" fill="#606060"/>
<rect x="54.56" y="365.82" width="1.50" height="1.50" rx="0.38" fill="#606060"/>
<rect x="57.83" y="365.82" width="1.50" height="1.50" rx="0.38" fill="#606060"/>
<rect x="61.09" y="365.82" width="1.50" height="1.50" rx="0.38" fill="#606060"/>
<rect x="64.36" y="365.82" width="1.50" height="1.50" rx="0.38" fill="#606060"/>
<rect x="66.18" y="365.88" width="1.50" height="1.50" rx="0.38" fill="#606060"/>
<rect x="70.28" y="358.81" width="1.50" height="1.50" rx="0.38" fill="#606060"/>
<rect x="73.20" y="350.13" width="1.50" height="1.50" rx="0.38" fill="#606060"/>
<rect x="76.13" y="343.93" width="1.50" height="1.50" rx="0.38" fill="#606060"/>
<rect x="79.05" y="340.46" width="1.50" height="1.50" rx="0.38" fill="#606060"/>
<rect x="81.98" y="340.21" width="1.50" height="1.50" rx="0.38" fill="#606060"/>
<rect x="84.90" y="341.95" width="1.50" height="1.50" rx="0.38" fill="#606060"/>
<rect x="87.83" y="344.80" width="1.50" height="1.50" rx="0.38" fill="#606060"/>
<rect x="90.75" y="348.02" width="1.50" height="1.50" rx="0.38" fill="#606060"/>
<rect x="93.68" y="351.37" width="1.50" height="1.50" rx="0.38" fill="#606060"/>
<rect x="96.60" y="354.47" width="1.50" height="1.50" rx="0.38" fill="#606060"/>
<rect x="99.53" y="357.32" width="1.50" height="1.50" rx="0.38" fill="#606060"/>
<rect x="102.45" y="359.68" width="1.50" height="1.50" rx="0.38" fill="#606060"/>
<rect x="105.38" y="361.66" width="1.50" height="1.50" rx="0.38" fill="#606060"/>
<rect x="108.30" y="363.15" width="1.50" height="1.50" rx="0.38" fill="#606060"/>
<rect x="111.23" y="364.27" width="1.50" height="1.50" rx="0.38" fill="#606060"/>
<rect x="114.15" y="365.01" width="1.50" height="1.50" rx="0.38" fill="#606060"/>
<rect x="117.08" y="365.51" width="1.50" height="1.50" rx="0.38" fill="#606060"/>
<rect x="120.00" y="365.88" width="1.50" height="1.50" rx="0.38" fill="#606060"/>
<rect x="123.11" y="365.82" width="1.50" height="1.50" rx="0.38" fill="#606060"/>
<rect x="126.38" y="365.82" width="1.50" height="1.50" rx="0.38" fill="#606060"/>
<rect x="129.64" y="365.82" width="1.50" height="1.50" rx="0.38" fill="#606060"/>
<rect x="132.91" y="365.82" width="1.50" height="1.50" rx="0.38" fill="#606060"/>
<rect x="136.17" y="365.82" width="1.50" height="1.50" rx="0.38" fill="#606060"/>
<rect x="139.44" y="365.82" width="1.50" height="1.50" rx="0.38" fill="#606060"/>
<rect x="142.70" y="365.82" width="1.50" height="1.50" rx="0.38" fill="#606060"/>
<rect x="145.96" y="365.82" width="1.50" height="1.50" rx="0.38" fill="#606060"/>
<rect x="149.23" y="365.82" width="1.50" height="1.50" rx="0.38" fill="#606060"/>
<rect x="152.49" y="365.82" width="1.50" height="1.50" rx="0.38" fill="#606060"/>
<rect x="155.76" y="365.82" width="1.50" height="1.50" rx="0.38" fill="#606060"/>
<rect x="159.02" y="365.82" width="1.50" height="1.50" rx="0.38" fill="#606060"/>
<rect x="162.29" y="365.82" width="1.50" height="1.50" rx="0.38" fill="#606060"/>
<rect x="165.55" y="365.82" width="1.50" height="1.50" rx="0.38" fill="#606060"/>
<rect x="168.81" y="365.82" width="1.50" height="1.50" rx="0.38" fill="#606060"/>
<polyline points="29.20,366.57 32.46,366.57 35.73,366.57 38.99,366.57 42.26,366.57 45.52,366.57 48.79,366.57 52.05,366.57 55.31,366.57 58.58,366.57 61.84,366.57 65.11,366.57 66.93,366.38 71.03,345.92 73.95,345.18 76.88,345.92 79.80,347.66 82.73,350.01 85.65,352.62 88.58,355.10 91.50,357.45 94.43,359.56 97.35,361.30 100.28,362.78 103.20,364.02 106.13,364.89 109.05,365.64 111.98,366.13 114.90,366.50 117.34,366.57 120.60,366.57 123.86,366.57 127.13,366.57 130.39,366.57 133.66,366.57 136.92,366.57 140.19,366.57 143.45,366.57 146.71,366.57 149.98,366.57 153.24,366.57 156.51,366.57 159.77,366.57 163.04,366.57 166.30,366.57 169.56,366.57" fill="none" stroke="#0a0a0a" stroke-width="1.55"  stroke-linejoin="round" />
<rect x="28.15" y="365.52" width="2.10" height="2.10" rx="0.53" fill="#0a0a0a"/>
<rect x="31.41" y="365.52" width="2.10" height="2.10" rx="0.53" fill="#0a0a0a"/>
<rect x="34.68" y="365.52" width="2.10" height="2.10" rx="0.53" fill="#0a0a0a"/>
<rect x="37.94" y="365.52" width="2.10" height="2.10" rx="0.53" fill="#0a0a0a"/>
<rect x="41.21" y="365.52" width="2.10" height="2.10" rx="0.53" fill="#0a0a0a"/>
<rect x="44.47" y="365.52" width="2.10" height="2.10" rx="0.53" fill="#0a0a0a"/>
<rect x="47.74" y="365.52" width="2.10" height="2.10" rx="0.53" fill="#0a0a0a"/>
<rect x="51.00" y="365.52" width="2.10" height="2.10" rx="0.53" fill="#0a0a0a"/>
<rect x="54.26" y="365.52" width="2.10" height="2.10" rx="0.53" fill="#0a0a0a"/>
<rect x="57.53" y="365.52" width="2.10" height="2.10" rx="0.53" fill="#0a0a0a"/>
<rect x="60.79" y="365.52" width="2.10" height="2.10" rx="0.53" fill="#0a0a0a"/>
<rect x="64.06" y="365.52" width="2.10" height="2.10" rx="0.53" fill="#0a0a0a"/>
<rect x="65.88" y="365.33" width="2.10" height="2.10" rx="0.53" fill="#0a0a0a"/>
<rect x="69.98" y="344.87" width="2.10" height="2.10" rx="0.53" fill="#0a0a0a"/>
<rect x="72.90" y="344.13" width="2.10" height="2.10" rx="0.53" fill="#0a0a0a"/>
<rect x="75.83" y="344.87" width="2.10" height="2.10" rx="0.53" fill="#0a0a0a"/>
<rect x="78.75" y="346.61" width="2.10" height="2.10" rx="0.53" fill="#0a0a0a"/>
<rect x="81.68" y="348.96" width="2.10" height="2.10" rx="0.53" fill="#0a0a0a"/>
<rect x="84.60" y="351.57" width="2.10" height="2.10" rx="0.53" fill="#0a0a0a"/>
<rect x="87.53" y="354.05" width="2.10" height="2.10" rx="0.53" fill="#0a0a0a"/>
<rect x="90.45" y="356.40" width="2.10" height="2.10" rx="0.53" fill="#0a0a0a"/>
<rect x="93.38" y="358.51" width="2.10" height="2.10" rx="0.53" fill="#0a0a0a"/>
<rect x="96.30" y="360.25" width="2.10" height="2.10" rx="0.53" fill="#0a0a0a"/>
<rect x="99.23" y="361.73" width="2.10" height="2.10" rx="0.53" fill="#0a0a0a"/>
<rect x="102.15" y="362.97" width="2.10" height="2.10" rx="0.53" fill="#0a0a0a"/>
<rect x="105.08" y="363.84" width="2.10" height="2.10" rx="0.53" fill="#0a0a0a"/>
<rect x="108.00" y="364.59" width="2.10" height="2.10" rx="0.53" fill="#0a0a0a"/>
<rect x="110.93" y="365.08" width="2.10" height="2.10" rx="0.53" fill="#0a0a0a"/>
<rect x="113.85" y="365.45" width="2.10" height="2.10" rx="0.53" fill="#0a0a0a"/>
<rect x="116.29" y="365.52" width="2.10" height="2.10" rx="0.53" fill="#0a0a0a"/>
<rect x="119.55" y="365.52" width="2.10" height="2.10" rx="0.53" fill="#0a0a0a"/>
<rect x="122.81" y="365.52" width="2.10" height="2.10" rx="0.53" fill="#0a0a0a"/>
<rect x="126.08" y="365.52" width="2.10" height="2.10" rx="0.53" fill="#0a0a0a"/>
<rect x="129.34" y="365.52" width="2.10" height="2.10" rx="0.53" fill="#0a0a0a"/>
<rect x="132.61" y="365.52" width="2.10" height="2.10" rx="0.53" fill="#0a0a0a"/>
<rect x="135.87" y="365.52" width="2.10" height="2.10" rx="0.53" fill="#0a0a0a"/>
<rect x="139.14" y="365.52" width="2.10" height="2.10" rx="0.53" fill="#0a0a0a"/>
<rect x="142.40" y="365.52" width="2.10" height="2.10" rx="0.53" fill="#0a0a0a"/>
<rect x="145.66" y="365.52" width="2.10" height="2.10" rx="0.53" fill="#0a0a0a"/>
<rect x="148.93" y="365.52" width="2.10" height="2.10" rx="0.53" fill="#0a0a0a"/>
<rect x="152.19" y="365.52" width="2.10" height="2.10" rx="0.53" fill="#0a0a0a"/>
<rect x="155.46" y="365.52" width="2.10" height="2.10" rx="0.53" fill="#0a0a0a"/>
<rect x="158.72" y="365.52" width="2.10" height="2.10" rx="0.53" fill="#0a0a0a"/>
<rect x="161.99" y="365.52" width="2.10" height="2.10" rx="0.53" fill="#0a0a0a"/>
<rect x="165.25" y="365.52" width="2.10" height="2.10" rx="0.53" fill="#0a0a0a"/>
<rect x="168.51" y="365.52" width="2.10" height="2.10" rx="0.53" fill="#0a0a0a"/>
<path d="M29.20,366.57L31.16,366.57 M32.46,366.57L34.42,366.57 M35.73,366.57L37.69,366.57 M38.99,366.57L40.95,366.57 M42.26,366.57L44.22,366.57 M45.52,366.57L47.48,366.57 M48.79,366.57L50.74,366.57 M52.05,366.57L54.01,366.57 M55.31,366.57L57.27,366.57 M58.58,366.57L60.54,366.57 M61.84,366.57L63.80,366.57 M65.11,366.57L66.20,366.45 M66.93,366.38L67.24,363.45 M67.44,361.50L67.75,358.57 M67.96,356.62L68.26,353.69 M68.47,351.73L68.78,348.80 M68.98,346.85L69.29,343.92 M69.49,341.97L69.80,339.04 M70.00,337.08L70.31,334.16 M70.52,332.20L70.82,329.27 M71.03,327.32L71.61,324.72 M72.00,322.98L72.59,320.38 M72.98,318.64L73.56,316.04 M73.95,314.30L75.71,313.18 M76.88,312.44L78.63,312.14 M79.80,311.94L81.56,312.99 M82.73,313.68L84.48,315.76 M85.65,317.15L87.41,320.05 M88.58,321.99L90.33,325.56 M91.50,327.94L93.26,331.66 M94.43,334.14L96.18,337.86 M97.35,340.34L99.11,343.69 M100.28,345.92L102.03,348.90 M103.20,350.88L104.96,353.41 M106.13,355.10L107.88,357.18 M109.05,358.57L110.81,360.13 M111.98,361.17L113.73,362.36 M114.90,363.16L116.66,363.97 M117.83,364.52L119.58,365.04 M120.75,365.39L122.51,365.76 M123.68,366.01L125.43,366.31 M126.60,366.50L128.88,366.54 M130.39,366.57L132.35,366.57 M133.66,366.57L135.62,366.57 M136.92,366.57L138.88,366.57 M140.19,366.57L142.14,366.57 M143.45,366.57L145.41,366.57 M146.71,366.57L148.67,366.57 M149.98,366.57L151.94,366.57 M153.24,366.57L155.20,366.57 M156.51,366.57L158.47,366.57 M159.77,366.57L161.73,366.57 M163.04,366.57L164.99,366.57 M166.30,366.57L168.26,366.57" fill="none" stroke="#0a0a0a" stroke-width="1.6"/>
<rect x="28.30" y="365.67" width="1.80" height="1.80" rx="0.45" fill="#0a0a0a"/>
<rect x="31.56" y="365.67" width="1.80" height="1.80" rx="0.45" fill="#0a0a0a"/>
<rect x="34.83" y="365.67" width="1.80" height="1.80" rx="0.45" fill="#0a0a0a"/>
<rect x="38.09" y="365.67" width="1.80" height="1.80" rx="0.45" fill="#0a0a0a"/>
<rect x="41.36" y="365.67" width="1.80" height="1.80" rx="0.45" fill="#0a0a0a"/>
<rect x="44.62" y="365.67" width="1.80" height="1.80" rx="0.45" fill="#0a0a0a"/>
<rect x="47.89" y="365.67" width="1.80" height="1.80" rx="0.45" fill="#0a0a0a"/>
<rect x="51.15" y="365.67" width="1.80" height="1.80" rx="0.45" fill="#0a0a0a"/>
<rect x="54.41" y="365.67" width="1.80" height="1.80" rx="0.45" fill="#0a0a0a"/>
<rect x="57.68" y="365.67" width="1.80" height="1.80" rx="0.45" fill="#0a0a0a"/>
<rect x="60.94" y="365.67" width="1.80" height="1.80" rx="0.45" fill="#0a0a0a"/>
<rect x="64.21" y="365.67" width="1.80" height="1.80" rx="0.45" fill="#0a0a0a"/>
<rect x="66.03" y="365.48" width="1.80" height="1.80" rx="0.45" fill="#0a0a0a"/>
<rect x="70.13" y="326.42" width="1.80" height="1.80" rx="0.45" fill="#0a0a0a"/>
<rect x="73.05" y="313.40" width="1.80" height="1.80" rx="0.45" fill="#0a0a0a"/>
<rect x="75.98" y="311.54" width="1.80" height="1.80" rx="0.45" fill="#0a0a0a"/>
<rect x="78.90" y="311.04" width="1.80" height="1.80" rx="0.45" fill="#0a0a0a"/>
<rect x="81.83" y="312.78" width="1.80" height="1.80" rx="0.45" fill="#0a0a0a"/>
<rect x="84.75" y="316.25" width="1.80" height="1.80" rx="0.45" fill="#0a0a0a"/>
<rect x="87.68" y="321.09" width="1.80" height="1.80" rx="0.45" fill="#0a0a0a"/>
<rect x="90.60" y="327.04" width="1.80" height="1.80" rx="0.45" fill="#0a0a0a"/>
<rect x="93.53" y="333.24" width="1.80" height="1.80" rx="0.45" fill="#0a0a0a"/>
<rect x="96.45" y="339.44" width="1.80" height="1.80" rx="0.45" fill="#0a0a0a"/>
<rect x="99.38" y="345.02" width="1.80" height="1.80" rx="0.45" fill="#0a0a0a"/>
<rect x="102.30" y="349.98" width="1.80" height="1.80" rx="0.45" fill="#0a0a0a"/>
<rect x="105.23" y="354.20" width="1.80" height="1.80" rx="0.45" fill="#0a0a0a"/>
<rect x="108.15" y="357.67" width="1.80" height="1.80" rx="0.45" fill="#0a0a0a"/>
<rect x="111.08" y="360.27" width="1.80" height="1.80" rx="0.45" fill="#0a0a0a"/>
<rect x="114.00" y="362.26" width="1.80" height="1.80" rx="0.45" fill="#0a0a0a"/>
<rect x="116.93" y="363.62" width="1.80" height="1.80" rx="0.45" fill="#0a0a0a"/>
<rect x="119.85" y="364.49" width="1.80" height="1.80" rx="0.45" fill="#0a0a0a"/>
<rect x="122.78" y="365.11" width="1.80" height="1.80" rx="0.45" fill="#0a0a0a"/>
<rect x="125.70" y="365.60" width="1.80" height="1.80" rx="0.45" fill="#0a0a0a"/>
<rect x="129.49" y="365.67" width="1.80" height="1.80" rx="0.45" fill="#0a0a0a"/>
<rect x="132.76" y="365.67" width="1.80" height="1.80" rx="0.45" fill="#0a0a0a"/>
<rect x="136.02" y="365.67" width="1.80" height="1.80" rx="0.45" fill="#0a0a0a"/>
<rect x="139.29" y="365.67" width="1.80" height="1.80" rx="0.45" fill="#0a0a0a"/>
<rect x="142.55" y="365.67" width="1.80" height="1.80" rx="0.45" fill="#0a0a0a"/>
<rect x="145.81" y="365.67" width="1.80" height="1.80" rx="0.45" fill="#0a0a0a"/>
<rect x="149.08" y="365.67" width="1.80" height="1.80" rx="0.45" fill="#0a0a0a"/>
<rect x="152.34" y="365.67" width="1.80" height="1.80" rx="0.45" fill="#0a0a0a"/>
<rect x="155.61" y="365.67" width="1.80" height="1.80" rx="0.45" fill="#0a0a0a"/>
<rect x="158.87" y="365.67" width="1.80" height="1.80" rx="0.45" fill="#0a0a0a"/>
<rect x="162.14" y="365.67" width="1.80" height="1.80" rx="0.45" fill="#0a0a0a"/>
<rect x="165.40" y="365.67" width="1.80" height="1.80" rx="0.45" fill="#0a0a0a"/>
<rect x="168.66" y="365.67" width="1.80" height="1.80" rx="0.45" fill="#0a0a0a"/>
<line x1="29.20" y1="292.00" x2="29.20" y2="367.60" stroke="#2a2a2a" stroke-width="1.25" />
<line x1="28.60" y1="367.00" x2="170.20" y2="367.00" stroke="#2a2a2a" stroke-width="1.25" />
<line x1="25.80" y1="367.00" x2="29.20" y2="367.00" stroke="#2a2a2a" stroke-width="1.1" />
<text x="24.2" y="370.1" font-size="9.0" text-anchor="end" font-weight="normal" fill="#000" stroke="#000" stroke-width="0.24" >0</text>
<line x1="25.80" y1="342.20" x2="29.20" y2="342.20" stroke="#2a2a2a" stroke-width="1.1" />
<text x="24.2" y="345.2" font-size="9.0" text-anchor="end" font-weight="normal" fill="#000" stroke="#000" stroke-width="0.24" >20</text>
<line x1="25.80" y1="317.40" x2="29.20" y2="317.40" stroke="#2a2a2a" stroke-width="1.1" />
<text x="24.2" y="320.5" font-size="9.0" text-anchor="end" font-weight="normal" fill="#000" stroke="#000" stroke-width="0.24" >40</text>
<line x1="25.80" y1="292.60" x2="29.20" y2="292.60" stroke="#2a2a2a" stroke-width="1.1" />
<text x="24.2" y="295.7" font-size="9.0" text-anchor="end" font-weight="normal" fill="#000" stroke="#000" stroke-width="0.24" >60</text>
<line x1="29.20" y1="367.00" x2="29.20" y2="369.80" stroke="#2a2a2a" stroke-width="1.1" />
<text x="28.7" y="381.8" font-size="9.0" text-anchor="middle" font-weight="normal" fill="#000" stroke="#000" stroke-width="0.24" >0</text>
<line x1="64.30" y1="367.00" x2="64.30" y2="369.80" stroke="#2a2a2a" stroke-width="1.1" />
<text x="63.8" y="381.8" font-size="9.0" text-anchor="middle" font-weight="normal" fill="#000" stroke="#000" stroke-width="0.24" >60</text>
<line x1="99.40" y1="367.00" x2="99.40" y2="369.80" stroke="#2a2a2a" stroke-width="1.1" />
<text x="98.9" y="381.8" font-size="9.0" text-anchor="middle" font-weight="normal" fill="#000" stroke="#000" stroke-width="0.24" >120</text>
<line x1="134.50" y1="367.00" x2="134.50" y2="369.80" stroke="#2a2a2a" stroke-width="1.1" />
<text x="134.0" y="381.8" font-size="9.0" text-anchor="middle" font-weight="normal" fill="#000" stroke="#000" stroke-width="0.24" >180</text>
<line x1="169.60" y1="367.00" x2="169.60" y2="369.80" stroke="#2a2a2a" stroke-width="1.1" />
<text x="169.1" y="381.8" font-size="9.0" text-anchor="middle" font-weight="normal" fill="#000" stroke="#000" stroke-width="0.24" >240</text>
<text x="102.3" y="394.6" font-size="9.3" text-anchor="middle" font-weight="normal" fill="#000" stroke="#000" stroke-width="0.24" >Time (s)</text>
<text transform="translate(8.3,332.0) rotate(-90)" font-size="9.7" text-anchor="middle" fill="#000" stroke="#000" stroke-width="0.2">10<tspan dy="-3.4" font-size="5.2" stroke-width="0.1" >4</tspan><tspan dy="3.4" font-size="9.3"> RLU</tspan></text>
<line x1="63.90" y1="352.00" x2="63.90" y2="365.10" stroke="#707070" stroke-width="1.3" />
<polyline points="61.70,362.50 63.90,365.10 66.10,362.50" fill="none" stroke="#707070" stroke-width="1.3"  stroke-linejoin="round" />
<polyline points="91.00,286.00 100.60,286.00" fill="none" stroke="#444" stroke-width="0.8"  stroke-linejoin="round" />
<rect x="95.00" y="285.20" width="1.60" height="1.60" rx="0.40" fill="#444"/>
<text x="102.9" y="289.3" font-size="9.35" text-anchor="start" font-weight="normal" fill="#000" stroke="#000" stroke-width="0.24" >RhoB KO<tspan dy="-3.2" font-size="5.5" stroke-width="0.1" >2</tspan></text>
<polyline points="91.00,295.60 100.60,295.60" fill="none" stroke="#0a0a0a" stroke-width="1.6"  stroke-linejoin="round" />
<rect x="94.70" y="294.50" width="2.20" height="2.20" rx="0.55" fill="#0a0a0a"/>
<text x="102.9" y="298.9" font-size="9.35" text-anchor="start" font-weight="normal" fill="#000" stroke="#000" stroke-width="0.24" >dKO</text>
<polyline points="91.00,305.40 100.60,305.40" fill="none" stroke="#8a8a8a" stroke-width="1.2" stroke-dasharray="3.2 1.8" stroke-linejoin="round" />
<text x="102.9" y="308.7" font-size="9.35" text-anchor="start" font-weight="normal" fill="#000" stroke="#000" stroke-width="0.24" >RhoB KO<tspan dy="-3.2" font-size="5.5" stroke-width="0.1" >2</tspan><tspan dy="3.2" font-size="9.35"> TNFα</tspan></text>
<polyline points="91.00,314.60 100.60,314.60" fill="none" stroke="#0a0a0a" stroke-width="1.6" stroke-dasharray="3.6 1.4" stroke-linejoin="round" />
<rect x="94.70" y="313.50" width="2.20" height="2.20" rx="0.55" fill="#0a0a0a"/>
<text x="102.9" y="317.9" font-size="9.35" text-anchor="start" font-weight="normal" fill="#000" stroke="#000" stroke-width="0.24" >dKO TNFα</text>
<line x1="238.26" y1="103.16" x2="238.26" y2="101.88" stroke="#333" stroke-width="0.9" />
<line x1="240.56" y1="99.33" x2="240.56" y2="95.81" stroke="#333" stroke-width="0.9" />
<line x1="242.85" y1="93.28" x2="242.85" y2="89.77" stroke="#333" stroke-width="0.9" />
<line x1="245.14" y1="88.07" x2="245.14" y2="83.62" stroke="#333" stroke-width="0.9" />
<line x1="247.44" y1="83.43" x2="247.44" y2="78.00" stroke="#333" stroke-width="0.9" />
<line x1="249.73" y1="79.45" x2="249.73" y2="73.18" stroke="#333" stroke-width="0.9" />
<line x1="252.03" y1="76.96" x2="252.03" y2="70.17" stroke="#333" stroke-width="0.9" />
<line x1="254.32" y1="75.14" x2="254.32" y2="67.96" stroke="#333" stroke-width="0.9" />
<line x1="256.62" y1="73.98" x2="256.62" y2="66.56" stroke="#333" stroke-width="0.9" />
<line x1="258.91" y1="73.48" x2="258.91" y2="65.96" stroke="#333" stroke-width="0.9" />
<line x1="261.20" y1="73.73" x2="261.20" y2="66.26" stroke="#333" stroke-width="0.9" />
<line x1="263.50" y1="74.31" x2="263.50" y2="66.96" stroke="#333" stroke-width="0.9" />
<line x1="265.79" y1="75.30" x2="265.79" y2="68.16" stroke="#333" stroke-width="0.9" />
<line x1="268.09" y1="76.80" x2="268.09" y2="69.97" stroke="#333" stroke-width="0.9" />
<line x1="270.38" y1="78.79" x2="270.38" y2="72.38" stroke="#333" stroke-width="0.9" />
<line x1="272.68" y1="80.78" x2="272.68" y2="74.79" stroke="#333" stroke-width="0.9" />
<line x1="274.97" y1="82.77" x2="274.97" y2="77.19" stroke="#333" stroke-width="0.9" />
<line x1="277.26" y1="84.76" x2="277.26" y2="79.60" stroke="#333" stroke-width="0.9" />
<line x1="279.56" y1="86.50" x2="279.56" y2="81.71" stroke="#333" stroke-width="0.9" />
<line x1="281.85" y1="88.24" x2="281.85" y2="83.82" stroke="#333" stroke-width="0.9" />
<line x1="284.15" y1="89.90" x2="284.15" y2="85.82" stroke="#333" stroke-width="0.9" />
<line x1="286.44" y1="91.39" x2="286.44" y2="87.63" stroke="#333" stroke-width="0.9" />
<line x1="288.73" y1="92.38" x2="288.73" y2="88.83" stroke="#333" stroke-width="0.9" />
<line x1="291.03" y1="93.47" x2="291.03" y2="89.95" stroke="#333" stroke-width="0.9" />
<line x1="293.32" y1="94.48" x2="293.32" y2="90.96" stroke="#333" stroke-width="0.9" />
<line x1="295.62" y1="95.30" x2="295.62" y2="91.78" stroke="#333" stroke-width="0.9" />
<line x1="297.91" y1="95.85" x2="297.91" y2="92.33" stroke="#333" stroke-width="0.9" />
<line x1="300.20" y1="96.40" x2="300.20" y2="92.88" stroke="#333" stroke-width="0.9" />
<line x1="302.50" y1="96.86" x2="302.50" y2="93.34" stroke="#333" stroke-width="0.9" />
<line x1="304.79" y1="97.13" x2="304.79" y2="93.61" stroke="#333" stroke-width="0.9" />
<line x1="307.09" y1="97.41" x2="307.09" y2="93.89" stroke="#333" stroke-width="0.9" />
<line x1="309.38" y1="97.54" x2="309.38" y2="94.02" stroke="#333" stroke-width="0.9" />
<line x1="311.68" y1="97.59" x2="311.68" y2="94.07" stroke="#333" stroke-width="0.9" />
<line x1="313.97" y1="97.65" x2="313.97" y2="94.13" stroke="#333" stroke-width="0.9" />
<line x1="316.26" y1="97.58" x2="316.26" y2="94.06" stroke="#333" stroke-width="0.9" />
<line x1="318.56" y1="97.51" x2="318.56" y2="93.99" stroke="#333" stroke-width="0.9" />
<line x1="320.85" y1="97.44" x2="320.85" y2="93.92" stroke="#333" stroke-width="0.9" />
<line x1="323.15" y1="97.37" x2="323.15" y2="93.85" stroke="#333" stroke-width="0.9" />
<line x1="325.44" y1="97.30" x2="325.44" y2="93.78" stroke="#333" stroke-width="0.9" />
<line x1="327.74" y1="97.25" x2="327.74" y2="93.73" stroke="#333" stroke-width="0.9" />
<line x1="330.03" y1="97.21" x2="330.03" y2="93.69" stroke="#333" stroke-width="0.9" />
<line x1="332.32" y1="97.16" x2="332.32" y2="93.64" stroke="#333" stroke-width="0.9" />
<line x1="334.62" y1="97.12" x2="334.62" y2="93.60" stroke="#333" stroke-width="0.9" />
<line x1="336.91" y1="97.07" x2="336.91" y2="93.56" stroke="#333" stroke-width="0.9" />
<line x1="339.21" y1="97.03" x2="339.21" y2="93.51" stroke="#333" stroke-width="0.9" />
<line x1="341.50" y1="96.99" x2="341.50" y2="93.47" stroke="#333" stroke-width="0.9" />
<polyline points="203.85,109.30 206.14,109.30 208.44,109.30 210.73,109.30 213.03,109.30 215.32,109.30 217.62,109.30 219.91,109.30 222.20,109.30 224.50,109.30 226.79,109.30 229.09,109.30 231.38,109.30 233.67,108.20 235.97,106.00 238.26,102.52 240.56,97.57 242.85,91.52 245.14,85.84 247.44,80.71 249.73,76.31 252.03,73.57 254.32,71.55 256.62,70.27 258.91,69.72 261.20,69.99 263.50,70.63 265.79,71.73 268.09,73.38 270.38,75.58 272.68,77.78 274.97,79.98 277.26,82.18 279.56,84.10 281.85,86.03 284.15,87.86 286.44,89.51 288.73,90.61 291.03,91.71 293.32,92.72 295.62,93.54 297.91,94.09 300.20,94.64 302.50,95.10 304.79,95.37 307.09,95.65 309.38,95.78 311.68,95.83 313.97,95.89 316.26,95.82 318.56,95.75 320.85,95.68 323.15,95.61 325.44,95.54 327.74,95.49 330.03,95.45 332.32,95.40 334.62,95.36 336.91,95.31 339.21,95.27 341.50,95.23" fill="none" stroke="#3a3a3a" stroke-width="1.0"  stroke-linejoin="round" />
<line x1="238.26" y1="101.68" x2="238.26" y2="97.87" stroke="#111" stroke-width="1.0" />
<line x1="240.56" y1="95.08" x2="240.56" y2="91.27" stroke="#111" stroke-width="1.0" />
<line x1="242.85" y1="88.12" x2="242.85" y2="83.93" stroke="#111" stroke-width="1.0" />
<line x1="245.14" y1="82.29" x2="245.14" y2="76.94" stroke="#111" stroke-width="1.0" />
<line x1="247.44" y1="77.12" x2="247.44" y2="70.75" stroke="#111" stroke-width="1.0" />
<line x1="249.73" y1="72.61" x2="249.73" y2="65.36" stroke="#111" stroke-width="1.0" />
<line x1="252.03" y1="69.61" x2="252.03" y2="61.76" stroke="#111" stroke-width="1.0" />
<line x1="254.32" y1="67.61" x2="254.32" y2="59.36" stroke="#111" stroke-width="1.0" />
<line x1="256.62" y1="66.53" x2="256.62" y2="58.07" stroke="#111" stroke-width="1.0" />
<line x1="258.91" y1="66.28" x2="258.91" y2="57.77" stroke="#111" stroke-width="1.0" />
<line x1="261.20" y1="67.03" x2="261.20" y2="58.67" stroke="#111" stroke-width="1.0" />
<line x1="263.50" y1="68.28" x2="263.50" y2="60.16" stroke="#111" stroke-width="1.0" />
<line x1="265.79" y1="69.95" x2="265.79" y2="62.16" stroke="#111" stroke-width="1.0" />
<line x1="268.09" y1="71.95" x2="268.09" y2="64.56" stroke="#111" stroke-width="1.0" />
<line x1="270.38" y1="74.45" x2="270.38" y2="67.55" stroke="#111" stroke-width="1.0" />
<line x1="272.68" y1="76.95" x2="272.68" y2="70.55" stroke="#111" stroke-width="1.0" />
<line x1="274.97" y1="79.45" x2="274.97" y2="73.55" stroke="#111" stroke-width="1.0" />
<line x1="277.26" y1="81.95" x2="277.26" y2="76.54" stroke="#111" stroke-width="1.0" />
<line x1="279.56" y1="83.95" x2="279.56" y2="78.94" stroke="#111" stroke-width="1.0" />
<line x1="281.85" y1="85.95" x2="281.85" y2="81.34" stroke="#111" stroke-width="1.0" />
<line x1="284.15" y1="87.87" x2="284.15" y2="83.63" stroke="#111" stroke-width="1.0" />
<line x1="286.44" y1="89.62" x2="286.44" y2="85.73" stroke="#111" stroke-width="1.0" />
<line x1="288.73" y1="90.96" x2="288.73" y2="87.15" stroke="#111" stroke-width="1.0" />
<line x1="291.03" y1="92.33" x2="291.03" y2="88.52" stroke="#111" stroke-width="1.0" />
<line x1="293.32" y1="93.52" x2="293.32" y2="89.71" stroke="#111" stroke-width="1.0" />
<line x1="295.62" y1="94.35" x2="295.62" y2="90.54" stroke="#111" stroke-width="1.0" />
<line x1="297.91" y1="95.17" x2="297.91" y2="91.36" stroke="#111" stroke-width="1.0" />
<line x1="300.20" y1="95.81" x2="300.20" y2="92.00" stroke="#111" stroke-width="1.0" />
<line x1="302.50" y1="96.27" x2="302.50" y2="92.46" stroke="#111" stroke-width="1.0" />
<line x1="304.79" y1="96.55" x2="304.79" y2="92.73" stroke="#111" stroke-width="1.0" />
<line x1="307.09" y1="96.82" x2="307.09" y2="93.01" stroke="#111" stroke-width="1.0" />
<line x1="309.38" y1="96.97" x2="309.38" y2="93.16" stroke="#111" stroke-width="1.0" />
<line x1="311.68" y1="97.05" x2="311.68" y2="93.24" stroke="#111" stroke-width="1.0" />
<line x1="313.97" y1="97.13" x2="313.97" y2="93.32" stroke="#111" stroke-width="1.0" />
<line x1="316.26" y1="97.10" x2="316.26" y2="93.29" stroke="#111" stroke-width="1.0" />
<line x1="318.56" y1="97.08" x2="318.56" y2="93.27" stroke="#111" stroke-width="1.0" />
<line x1="320.85" y1="97.05" x2="320.85" y2="93.24" stroke="#111" stroke-width="1.0" />
<line x1="323.15" y1="97.02" x2="323.15" y2="93.21" stroke="#111" stroke-width="1.0" />
<line x1="325.44" y1="96.99" x2="325.44" y2="93.18" stroke="#111" stroke-width="1.0" />
<line x1="327.74" y1="96.96" x2="327.74" y2="93.14" stroke="#111" stroke-width="1.0" />
<line x1="330.03" y1="96.91" x2="330.03" y2="93.10" stroke="#111" stroke-width="1.0" />
<line x1="332.32" y1="96.87" x2="332.32" y2="93.06" stroke="#111" stroke-width="1.0" />
<line x1="334.62" y1="96.82" x2="334.62" y2="93.01" stroke="#111" stroke-width="1.0" />
<line x1="336.91" y1="96.78" x2="336.91" y2="92.97" stroke="#111" stroke-width="1.0" />
<line x1="339.21" y1="96.74" x2="339.21" y2="92.92" stroke="#111" stroke-width="1.0" />
<line x1="341.50" y1="96.69" x2="341.50" y2="92.88" stroke="#111" stroke-width="1.0" />
<polyline points="203.85,109.30 206.14,109.30 208.44,109.30 210.73,109.30 213.03,109.30 215.32,109.30 217.62,109.30 219.91,109.30 222.20,109.30 224.50,109.30 226.79,109.30 229.09,109.30 231.38,108.93 233.67,107.56 235.97,104.54 238.26,99.77 240.56,93.17 242.85,86.03 245.14,79.61 247.44,73.93 249.73,68.98 252.03,65.69 254.32,63.49 256.62,62.30 258.91,62.02 261.20,62.85 263.50,64.22 265.79,66.05 268.09,68.25 270.38,71.00 272.68,73.75 274.97,76.50 277.26,79.25 279.56,81.45 281.85,83.64 284.15,85.75 286.44,87.68 288.73,89.05 291.03,90.43 293.32,91.62 295.62,92.44 297.91,93.27 300.20,93.91 302.50,94.37 304.79,94.64 307.09,94.91 309.38,95.06 311.68,95.14 313.97,95.23 316.26,95.20 318.56,95.17 320.85,95.14 323.15,95.12 325.44,95.09 327.74,95.05 330.03,95.01 332.32,94.96 334.62,94.92 336.91,94.87 339.21,94.83 341.50,94.79" fill="none" stroke="#0a0a0a" stroke-width="2.05"  stroke-linejoin="round" />
<line x1="203.85" y1="35.40" x2="203.85" y2="109.90" stroke="#2a2a2a" stroke-width="1.25" />
<line x1="203.25" y1="109.30" x2="342.10" y2="109.30" stroke="#2a2a2a" stroke-width="1.25" />
<line x1="200.45" y1="109.30" x2="203.85" y2="109.30" stroke="#2a2a2a" stroke-width="1.1" />
<text x="198.8" y="112.3" font-size="9.0" text-anchor="end" font-weight="normal" fill="#000" stroke="#000" stroke-width="0.24" >0</text>
<line x1="200.45" y1="94.64" x2="203.85" y2="94.64" stroke="#2a2a2a" stroke-width="1.1" />
<text x="198.8" y="97.7" font-size="9.0" text-anchor="end" font-weight="normal" fill="#000" stroke="#000" stroke-width="0.24" >20</text>
<line x1="200.45" y1="79.98" x2="203.85" y2="79.98" stroke="#2a2a2a" stroke-width="1.1" />
<text x="198.8" y="83.0" font-size="9.0" text-anchor="end" font-weight="normal" fill="#000" stroke="#000" stroke-width="0.24" >40</text>
<line x1="200.45" y1="65.32" x2="203.85" y2="65.32" stroke="#2a2a2a" stroke-width="1.1" />
<text x="198.8" y="68.4" font-size="9.0" text-anchor="end" font-weight="normal" fill="#000" stroke="#000" stroke-width="0.24" >60</text>
<line x1="200.45" y1="50.66" x2="203.85" y2="50.66" stroke="#2a2a2a" stroke-width="1.1" />
<text x="198.8" y="53.7" font-size="9.0" text-anchor="end" font-weight="normal" fill="#000" stroke="#000" stroke-width="0.24" >80</text>
<line x1="200.45" y1="36.00" x2="203.85" y2="36.00" stroke="#2a2a2a" stroke-width="1.1" />
<text x="198.8" y="39.0" font-size="9.0" text-anchor="end" font-weight="normal" fill="#000" stroke="#000" stroke-width="0.24" >100</text>
<line x1="203.85" y1="109.30" x2="203.85" y2="112.10" stroke="#2a2a2a" stroke-width="1.1" />
<text x="203.2" y="124.4" font-size="9.0" text-anchor="middle" font-weight="normal" fill="#000" stroke="#000" stroke-width="0.24" >0</text>
<line x1="249.73" y1="109.30" x2="249.73" y2="112.10" stroke="#2a2a2a" stroke-width="1.1" />
<text x="249.1" y="124.4" font-size="9.0" text-anchor="middle" font-weight="normal" fill="#000" stroke="#000" stroke-width="0.24" >150</text>
<line x1="295.62" y1="109.30" x2="295.62" y2="112.10" stroke="#2a2a2a" stroke-width="1.1" />
<text x="295.0" y="124.4" font-size="9.0" text-anchor="middle" font-weight="normal" fill="#000" stroke="#000" stroke-width="0.24" >300</text>
<line x1="341.50" y1="109.30" x2="341.50" y2="112.10" stroke="#2a2a2a" stroke-width="1.1" />
<text x="340.9" y="124.4" font-size="9.0" text-anchor="middle" font-weight="normal" fill="#000" stroke="#000" stroke-width="0.24" >450</text>
<text x="276.5" y="137.6" font-size="9.3" text-anchor="middle" font-weight="normal" fill="#000" stroke="#000" stroke-width="0.24" >Time (s)</text>
<text transform="translate(182.2,73.9) rotate(-90)" font-size="9.7" text-anchor="middle" fill="#000" stroke="#000" stroke-width="0.2">10<tspan dy="-3.4" font-size="5.2" stroke-width="0.1" >4</tspan><tspan dy="3.4" font-size="9.3"> RLU</tspan></text>
<line x1="213.60" y1="95.90" x2="213.60" y2="108.70" stroke="#3a3a3a" stroke-width="0.95" />
<polyline points="211.40,106.10 213.60,108.70 215.80,106.10" fill="none" stroke="#3a3a3a" stroke-width="0.95"  stroke-linejoin="round" />
<polyline points="264.50,29.20 273.50,29.20" fill="none" stroke="#777" stroke-width="0.9"  stroke-linejoin="round" />
<rect x="268.30" y="28.50" width="1.40" height="1.40" rx="0.35" fill="#666"/>
<text x="277.5" y="32.5" font-size="9.35" text-anchor="start" font-weight="normal" fill="#000" stroke="#000" stroke-width="0.24" >WT<tspan dy="-3.2" font-size="5.5" stroke-width="0.1" >1</tspan></text>
<polyline points="264.50,38.80 273.50,38.80" fill="none" stroke="#0a0a0a" stroke-width="2.1"  stroke-linejoin="round" />
<text x="277.5" y="42.1" font-size="9.35" text-anchor="start" font-weight="normal" fill="#000" stroke="#000" stroke-width="0.24" >RhoA KO</text>
<line x1="235.97" y1="231.97" x2="235.97" y2="230.72" stroke="#333" stroke-width="0.9" />
<line x1="238.26" y1="228.71" x2="238.26" y2="225.20" stroke="#333" stroke-width="0.9" />
<line x1="240.56" y1="223.22" x2="240.56" y2="219.71" stroke="#333" stroke-width="0.9" />
<line x1="242.85" y1="216.98" x2="242.85" y2="212.77" stroke="#333" stroke-width="0.9" />
<line x1="245.14" y1="211.32" x2="245.14" y2="205.99" stroke="#333" stroke-width="0.9" />
<line x1="247.44" y1="205.99" x2="247.44" y2="199.60" stroke="#333" stroke-width="0.9" />
<line x1="249.73" y1="201.00" x2="249.73" y2="193.62" stroke="#333" stroke-width="0.9" />
<line x1="252.03" y1="197.00" x2="252.03" y2="188.83" stroke="#333" stroke-width="0.9" />
<line x1="254.32" y1="194.00" x2="254.32" y2="185.24" stroke="#333" stroke-width="0.9" />
<line x1="256.62" y1="191.84" x2="256.62" y2="182.65" stroke="#333" stroke-width="0.9" />
<line x1="258.91" y1="190.34" x2="258.91" y2="180.85" stroke="#333" stroke-width="0.9" />
<line x1="261.20" y1="189.84" x2="261.20" y2="180.25" stroke="#333" stroke-width="0.9" />
<line x1="263.50" y1="190.01" x2="263.50" y2="180.45" stroke="#333" stroke-width="0.9" />
<line x1="265.79" y1="190.84" x2="265.79" y2="181.45" stroke="#333" stroke-width="0.9" />
<line x1="268.09" y1="192.34" x2="268.09" y2="183.25" stroke="#333" stroke-width="0.9" />
<line x1="270.38" y1="194.34" x2="270.38" y2="185.64" stroke="#333" stroke-width="0.9" />
<line x1="272.68" y1="196.67" x2="272.68" y2="188.43" stroke="#333" stroke-width="0.9" />
<line x1="274.97" y1="199.17" x2="274.97" y2="191.42" stroke="#333" stroke-width="0.9" />
<line x1="277.26" y1="201.66" x2="277.26" y2="194.42" stroke="#333" stroke-width="0.9" />
<line x1="279.56" y1="204.16" x2="279.56" y2="197.41" stroke="#333" stroke-width="0.9" />
<line x1="281.85" y1="206.33" x2="281.85" y2="200.00" stroke="#333" stroke-width="0.9" />
<line x1="284.15" y1="208.24" x2="284.15" y2="202.30" stroke="#333" stroke-width="0.9" />
<line x1="286.44" y1="209.99" x2="286.44" y2="204.39" stroke="#333" stroke-width="0.9" />
<line x1="288.73" y1="211.49" x2="288.73" y2="206.19" stroke="#333" stroke-width="0.9" />
<line x1="291.03" y1="212.82" x2="291.03" y2="207.78" stroke="#333" stroke-width="0.9" />
<line x1="293.32" y1="213.99" x2="293.32" y2="209.18" stroke="#333" stroke-width="0.9" />
<line x1="295.62" y1="214.99" x2="295.62" y2="210.37" stroke="#333" stroke-width="0.9" />
<line x1="297.91" y1="215.74" x2="297.91" y2="211.27" stroke="#333" stroke-width="0.9" />
<line x1="300.20" y1="216.32" x2="300.20" y2="211.97" stroke="#333" stroke-width="0.9" />
<line x1="302.50" y1="216.73" x2="302.50" y2="212.47" stroke="#333" stroke-width="0.9" />
<line x1="304.79" y1="216.98" x2="304.79" y2="212.77" stroke="#333" stroke-width="0.9" />
<line x1="307.09" y1="217.23" x2="307.09" y2="213.07" stroke="#333" stroke-width="0.9" />
<line x1="309.38" y1="217.34" x2="309.38" y2="213.20" stroke="#333" stroke-width="0.9" />
<line x1="311.68" y1="217.39" x2="311.68" y2="213.25" stroke="#333" stroke-width="0.9" />
<line x1="313.97" y1="217.43" x2="313.97" y2="213.30" stroke="#333" stroke-width="0.9" />
<line x1="316.26" y1="217.47" x2="316.26" y2="213.35" stroke="#333" stroke-width="0.9" />
<line x1="318.56" y1="217.51" x2="318.56" y2="213.40" stroke="#333" stroke-width="0.9" />
<line x1="320.85" y1="217.55" x2="320.85" y2="213.45" stroke="#333" stroke-width="0.9" />
<line x1="323.15" y1="217.59" x2="323.15" y2="213.50" stroke="#333" stroke-width="0.9" />
<line x1="325.44" y1="217.64" x2="325.44" y2="213.55" stroke="#333" stroke-width="0.9" />
<line x1="327.74" y1="217.65" x2="327.74" y2="213.57" stroke="#333" stroke-width="0.9" />
<line x1="330.03" y1="217.65" x2="330.03" y2="213.57" stroke="#333" stroke-width="0.9" />
<line x1="332.32" y1="217.65" x2="332.32" y2="213.57" stroke="#333" stroke-width="0.9" />
<line x1="334.62" y1="217.65" x2="334.62" y2="213.57" stroke="#333" stroke-width="0.9" />
<line x1="336.91" y1="217.65" x2="336.91" y2="213.57" stroke="#333" stroke-width="0.9" />
<line x1="339.21" y1="217.65" x2="339.21" y2="213.57" stroke="#333" stroke-width="0.9" />
<line x1="341.50" y1="217.65" x2="341.50" y2="213.57" stroke="#333" stroke-width="0.9" />
<polyline points="203.85,238.30 206.14,238.30 208.44,238.30 210.73,238.30 213.03,238.30 215.32,238.30 217.62,238.30 219.91,238.30 222.20,238.30 224.50,238.30 226.79,238.30 229.09,237.93 231.38,236.84 233.67,234.64 235.97,231.35 238.26,226.95 240.56,221.46 242.85,214.88 245.14,208.65 247.44,202.80 249.73,197.31 252.03,192.92 254.32,189.62 256.62,187.24 258.91,185.60 261.20,185.05 263.50,185.23 265.79,186.14 268.09,187.79 270.38,189.99 272.68,192.55 274.97,195.30 277.26,198.04 279.56,200.78 281.85,203.16 284.15,205.27 286.44,207.19 288.73,208.84 291.03,210.30 293.32,211.58 295.62,212.68 297.91,213.50 300.20,214.14 302.50,214.60 304.79,214.88 307.09,215.15 309.38,215.27 311.68,215.32 313.97,215.36 316.26,215.41 318.56,215.46 320.85,215.50 323.15,215.55 325.44,215.59 327.74,215.61 330.03,215.61 332.32,215.61 334.62,215.61 336.91,215.61 339.21,215.61 341.50,215.61" fill="none" stroke="#3a3a3a" stroke-width="1.0"  stroke-linejoin="round" />
<line x1="233.67" y1="227.65" x2="233.67" y2="224.43" stroke="#111" stroke-width="1.0" />
<line x1="235.97" y1="221.98" x2="235.97" y2="218.76" stroke="#111" stroke-width="1.0" />
<line x1="238.26" y1="215.94" x2="238.26" y2="212.72" stroke="#111" stroke-width="1.0" />
<line x1="240.56" y1="209.90" x2="240.56" y2="206.68" stroke="#111" stroke-width="1.0" />
<line x1="242.85" y1="204.41" x2="242.85" y2="201.19" stroke="#111" stroke-width="1.0" />
<line x1="245.14" y1="199.85" x2="245.14" y2="196.23" stroke="#111" stroke-width="1.0" />
<line x1="247.44" y1="196.01" x2="247.44" y2="192.02" stroke="#111" stroke-width="1.0" />
<line x1="249.73" y1="192.86" x2="249.73" y2="188.58" stroke="#111" stroke-width="1.0" />
<line x1="252.03" y1="190.76" x2="252.03" y2="186.28" stroke="#111" stroke-width="1.0" />
<line x1="254.32" y1="189.37" x2="254.32" y2="184.75" stroke="#111" stroke-width="1.0" />
<line x1="256.62" y1="188.58" x2="256.62" y2="183.89" stroke="#111" stroke-width="1.0" />
<line x1="258.91" y1="188.32" x2="258.91" y2="183.61" stroke="#111" stroke-width="1.0" />
<line x1="261.20" y1="189.10" x2="261.20" y2="184.47" stroke="#111" stroke-width="1.0" />
<line x1="263.50" y1="190.41" x2="263.50" y2="185.90" stroke="#111" stroke-width="1.0" />
<line x1="265.79" y1="192.07" x2="265.79" y2="187.72" stroke="#111" stroke-width="1.0" />
<line x1="268.09" y1="193.91" x2="268.09" y2="189.73" stroke="#111" stroke-width="1.0" />
<line x1="270.38" y1="195.74" x2="270.38" y2="191.73" stroke="#111" stroke-width="1.0" />
<line x1="272.68" y1="197.58" x2="272.68" y2="193.74" stroke="#111" stroke-width="1.0" />
<line x1="274.97" y1="199.41" x2="274.97" y2="195.75" stroke="#111" stroke-width="1.0" />
<line x1="277.26" y1="201.25" x2="277.26" y2="197.76" stroke="#111" stroke-width="1.0" />
<line x1="279.56" y1="202.82" x2="279.56" y2="199.48" stroke="#111" stroke-width="1.0" />
<line x1="281.85" y1="204.23" x2="281.85" y2="201.00" stroke="#111" stroke-width="1.0" />
<line x1="284.15" y1="205.60" x2="284.15" y2="202.38" stroke="#111" stroke-width="1.0" />
<line x1="286.44" y1="206.97" x2="286.44" y2="203.75" stroke="#111" stroke-width="1.0" />
<line x1="288.73" y1="208.07" x2="288.73" y2="204.85" stroke="#111" stroke-width="1.0" />
<line x1="291.03" y1="208.98" x2="291.03" y2="205.76" stroke="#111" stroke-width="1.0" />
<line x1="293.32" y1="209.72" x2="293.32" y2="206.49" stroke="#111" stroke-width="1.0" />
<line x1="295.62" y1="210.26" x2="295.62" y2="207.04" stroke="#111" stroke-width="1.0" />
<line x1="297.91" y1="210.54" x2="297.91" y2="207.32" stroke="#111" stroke-width="1.0" />
<line x1="300.20" y1="210.81" x2="300.20" y2="207.59" stroke="#111" stroke-width="1.0" />
<line x1="302.50" y1="211.09" x2="302.50" y2="207.87" stroke="#111" stroke-width="1.0" />
<line x1="304.79" y1="211.36" x2="304.79" y2="208.14" stroke="#111" stroke-width="1.0" />
<line x1="307.09" y1="211.38" x2="307.09" y2="208.16" stroke="#111" stroke-width="1.0" />
<line x1="309.38" y1="211.39" x2="309.38" y2="208.17" stroke="#111" stroke-width="1.0" />
<line x1="311.68" y1="211.41" x2="311.68" y2="208.19" stroke="#111" stroke-width="1.0" />
<line x1="313.97" y1="211.43" x2="313.97" y2="208.20" stroke="#111" stroke-width="1.0" />
<line x1="316.26" y1="211.44" x2="316.26" y2="208.22" stroke="#111" stroke-width="1.0" />
<line x1="318.56" y1="211.46" x2="318.56" y2="208.24" stroke="#111" stroke-width="1.0" />
<line x1="320.85" y1="211.47" x2="320.85" y2="208.25" stroke="#111" stroke-width="1.0" />
<line x1="323.15" y1="211.49" x2="323.15" y2="208.27" stroke="#111" stroke-width="1.0" />
<line x1="325.44" y1="211.50" x2="325.44" y2="208.28" stroke="#111" stroke-width="1.0" />
<line x1="327.74" y1="211.49" x2="327.74" y2="208.27" stroke="#111" stroke-width="1.0" />
<line x1="330.03" y1="211.47" x2="330.03" y2="208.25" stroke="#111" stroke-width="1.0" />
<line x1="332.32" y1="211.45" x2="332.32" y2="208.23" stroke="#111" stroke-width="1.0" />
<line x1="334.62" y1="211.43" x2="334.62" y2="208.21" stroke="#111" stroke-width="1.0" />
<line x1="336.91" y1="211.41" x2="336.91" y2="208.19" stroke="#111" stroke-width="1.0" />
<line x1="339.21" y1="211.38" x2="339.21" y2="208.16" stroke="#111" stroke-width="1.0" />
<line x1="341.50" y1="211.36" x2="341.50" y2="208.14" stroke="#111" stroke-width="1.0" />
<polyline points="203.85,238.30 206.14,238.30 208.44,238.30 210.73,238.30 213.03,238.30 215.32,238.30 217.62,238.30 219.91,238.30 222.20,238.08 224.50,237.70 226.79,236.47 229.09,234.27 231.38,230.98 233.67,226.04 235.97,220.37 238.26,214.33 240.56,208.29 242.85,202.80 245.14,198.04 247.44,194.01 249.73,190.72 252.03,188.52 254.32,187.06 256.62,186.24 258.91,185.96 261.20,186.79 263.50,188.16 265.79,189.90 268.09,191.82 270.38,193.74 272.68,195.66 274.97,197.58 277.26,199.50 279.56,201.15 281.85,202.62 284.15,203.99 286.44,205.36 288.73,206.46 291.03,207.37 293.32,208.11 295.62,208.65 297.91,208.93 300.20,209.20 302.50,209.48 304.79,209.75 307.09,209.77 309.38,209.78 311.68,209.80 313.97,209.81 316.26,209.83 318.56,209.85 320.85,209.86 323.15,209.88 325.44,209.89 327.74,209.88 330.03,209.86 332.32,209.84 334.62,209.82 336.91,209.80 339.21,209.77 341.50,209.75" fill="none" stroke="#0a0a0a" stroke-width="2.05"  stroke-linejoin="round" />
<line x1="203.85" y1="164.50" x2="203.85" y2="238.90" stroke="#2a2a2a" stroke-width="1.25" />
<line x1="203.25" y1="238.30" x2="342.10" y2="238.30" stroke="#2a2a2a" stroke-width="1.25" />
<line x1="200.45" y1="238.30" x2="203.85" y2="238.30" stroke="#2a2a2a" stroke-width="1.1" />
<text x="198.8" y="241.4" font-size="9.0" text-anchor="end" font-weight="normal" fill="#000" stroke="#000" stroke-width="0.24" >0</text>
<line x1="200.45" y1="223.66" x2="203.85" y2="223.66" stroke="#2a2a2a" stroke-width="1.1" />
<text x="198.8" y="226.7" font-size="9.0" text-anchor="end" font-weight="normal" fill="#000" stroke="#000" stroke-width="0.24" >20</text>
<line x1="200.45" y1="209.02" x2="203.85" y2="209.02" stroke="#2a2a2a" stroke-width="1.1" />
<text x="198.8" y="212.1" font-size="9.0" text-anchor="end" font-weight="normal" fill="#000" stroke="#000" stroke-width="0.24" >40</text>
<line x1="200.45" y1="194.38" x2="203.85" y2="194.38" stroke="#2a2a2a" stroke-width="1.1" />
<text x="198.8" y="197.4" font-size="9.0" text-anchor="end" font-weight="normal" fill="#000" stroke="#000" stroke-width="0.24" >60</text>
<line x1="200.45" y1="179.74" x2="203.85" y2="179.74" stroke="#2a2a2a" stroke-width="1.1" />
<text x="198.8" y="182.8" font-size="9.0" text-anchor="end" font-weight="normal" fill="#000" stroke="#000" stroke-width="0.24" >80</text>
<line x1="200.45" y1="165.10" x2="203.85" y2="165.10" stroke="#2a2a2a" stroke-width="1.1" />
<text x="198.8" y="168.2" font-size="9.0" text-anchor="end" font-weight="normal" fill="#000" stroke="#000" stroke-width="0.24" >100</text>
<line x1="203.85" y1="238.30" x2="203.85" y2="241.10" stroke="#2a2a2a" stroke-width="1.1" />
<text x="203.2" y="253.3" font-size="9.0" text-anchor="middle" font-weight="normal" fill="#000" stroke="#000" stroke-width="0.24" >0</text>
<line x1="249.73" y1="238.30" x2="249.73" y2="241.10" stroke="#2a2a2a" stroke-width="1.1" />
<text x="249.1" y="253.3" font-size="9.0" text-anchor="middle" font-weight="normal" fill="#000" stroke="#000" stroke-width="0.24" >150</text>
<line x1="295.62" y1="238.30" x2="295.62" y2="241.10" stroke="#2a2a2a" stroke-width="1.1" />
<text x="295.0" y="253.3" font-size="9.0" text-anchor="middle" font-weight="normal" fill="#000" stroke="#000" stroke-width="0.24" >300</text>
<line x1="341.50" y1="238.30" x2="341.50" y2="241.10" stroke="#2a2a2a" stroke-width="1.1" />
<text x="340.9" y="253.3" font-size="9.0" text-anchor="middle" font-weight="normal" fill="#000" stroke="#000" stroke-width="0.24" >450</text>
<text x="276.5" y="266.6" font-size="9.3" text-anchor="middle" font-weight="normal" fill="#000" stroke="#000" stroke-width="0.24" >Time (s)</text>
<text transform="translate(182.2,202.9) rotate(-90)" font-size="9.7" text-anchor="middle" fill="#000" stroke="#000" stroke-width="0.2">10<tspan dy="-3.4" font-size="5.2" stroke-width="0.1" >4</tspan><tspan dy="3.4" font-size="9.3"> RLU</tspan></text>
<line x1="213.60" y1="224.90" x2="213.60" y2="237.70" stroke="#3a3a3a" stroke-width="0.95" />
<polyline points="211.40,235.10 213.60,237.70 215.80,235.10" fill="none" stroke="#3a3a3a" stroke-width="0.95"  stroke-linejoin="round" />
<polyline points="264.50,158.40 273.50,158.40" fill="none" stroke="#777" stroke-width="0.9"  stroke-linejoin="round" />
<rect x="268.30" y="157.70" width="1.40" height="1.40" rx="0.35" fill="#666"/>
<text x="277.5" y="161.7" font-size="9.35" text-anchor="start" font-weight="normal" fill="#000" stroke="#000" stroke-width="0.24" >WT<tspan dy="-3.2" font-size="5.5" stroke-width="0.1" >2</tspan></text>
<polyline points="264.50,168.00 273.50,168.00" fill="none" stroke="#0a0a0a" stroke-width="2.1"  stroke-linejoin="round" />
<text x="277.5" y="171.3" font-size="9.35" text-anchor="start" font-weight="normal" fill="#000" stroke="#000" stroke-width="0.24" >RhoB KO<tspan dy="-3.2" font-size="5.5" stroke-width="0.1" >1</tspan></text>
<line x1="235.97" y1="358.02" x2="235.97" y2="355.11" stroke="#333" stroke-width="0.9" />
<line x1="238.26" y1="353.29" x2="238.26" y2="350.38" stroke="#333" stroke-width="0.9" />
<line x1="240.56" y1="347.83" x2="240.56" y2="344.92" stroke="#333" stroke-width="0.9" />
<line x1="242.85" y1="341.82" x2="242.85" y2="338.91" stroke="#333" stroke-width="0.9" />
<line x1="245.14" y1="336.75" x2="245.14" y2="333.43" stroke="#333" stroke-width="0.9" />
<line x1="247.44" y1="332.45" x2="247.44" y2="328.63" stroke="#333" stroke-width="0.9" />
<line x1="249.73" y1="328.84" x2="249.73" y2="324.59" stroke="#333" stroke-width="0.9" />
<line x1="252.03" y1="326.77" x2="252.03" y2="322.29" stroke="#333" stroke-width="0.9" />
<line x1="254.32" y1="325.40" x2="254.32" y2="320.75" stroke="#333" stroke-width="0.9" />
<line x1="256.62" y1="324.80" x2="256.62" y2="320.08" stroke="#333" stroke-width="0.9" />
<line x1="258.91" y1="325.05" x2="258.91" y2="320.37" stroke="#333" stroke-width="0.9" />
<line x1="261.20" y1="326.09" x2="261.20" y2="321.52" stroke="#333" stroke-width="0.9" />
<line x1="263.50" y1="327.46" x2="263.50" y2="323.06" stroke="#333" stroke-width="0.9" />
<line x1="265.79" y1="329.10" x2="265.79" y2="324.88" stroke="#333" stroke-width="0.9" />
<line x1="268.09" y1="330.90" x2="268.09" y2="326.90" stroke="#333" stroke-width="0.9" />
<line x1="270.38" y1="332.71" x2="270.38" y2="328.91" stroke="#333" stroke-width="0.9" />
<line x1="272.68" y1="334.51" x2="272.68" y2="330.93" stroke="#333" stroke-width="0.9" />
<line x1="274.97" y1="336.23" x2="274.97" y2="332.85" stroke="#333" stroke-width="0.9" />
<line x1="277.26" y1="337.78" x2="277.26" y2="334.58" stroke="#333" stroke-width="0.9" />
<line x1="279.56" y1="339.07" x2="279.56" y2="336.02" stroke="#333" stroke-width="0.9" />
<line x1="281.85" y1="340.37" x2="281.85" y2="337.45" stroke="#333" stroke-width="0.9" />
<line x1="284.15" y1="341.64" x2="284.15" y2="338.73" stroke="#333" stroke-width="0.9" />
<line x1="286.44" y1="342.73" x2="286.44" y2="339.82" stroke="#333" stroke-width="0.9" />
<line x1="288.73" y1="343.55" x2="288.73" y2="340.64" stroke="#333" stroke-width="0.9" />
<line x1="291.03" y1="344.37" x2="291.03" y2="341.46" stroke="#333" stroke-width="0.9" />
<line x1="293.32" y1="345.10" x2="293.32" y2="342.19" stroke="#333" stroke-width="0.9" />
<line x1="295.62" y1="345.64" x2="295.62" y2="342.73" stroke="#333" stroke-width="0.9" />
<line x1="297.91" y1="346.19" x2="297.91" y2="343.28" stroke="#333" stroke-width="0.9" />
<line x1="300.20" y1="346.74" x2="300.20" y2="343.82" stroke="#333" stroke-width="0.9" />
<line x1="302.50" y1="347.19" x2="302.50" y2="344.28" stroke="#333" stroke-width="0.9" />
<line x1="304.79" y1="347.46" x2="304.79" y2="344.55" stroke="#333" stroke-width="0.9" />
<line x1="307.09" y1="347.74" x2="307.09" y2="344.82" stroke="#333" stroke-width="0.9" />
<line x1="309.38" y1="347.92" x2="309.38" y2="345.01" stroke="#333" stroke-width="0.9" />
<line x1="311.68" y1="348.06" x2="311.68" y2="345.14" stroke="#333" stroke-width="0.9" />
<line x1="313.97" y1="348.19" x2="313.97" y2="345.28" stroke="#333" stroke-width="0.9" />
<line x1="316.26" y1="348.26" x2="316.26" y2="345.35" stroke="#333" stroke-width="0.9" />
<line x1="318.56" y1="348.33" x2="318.56" y2="345.42" stroke="#333" stroke-width="0.9" />
<line x1="320.85" y1="348.40" x2="320.85" y2="345.48" stroke="#333" stroke-width="0.9" />
<line x1="323.15" y1="348.47" x2="323.15" y2="345.55" stroke="#333" stroke-width="0.9" />
<line x1="325.44" y1="348.53" x2="325.44" y2="345.62" stroke="#333" stroke-width="0.9" />
<line x1="327.74" y1="348.56" x2="327.74" y2="345.64" stroke="#333" stroke-width="0.9" />
<line x1="330.03" y1="348.56" x2="330.03" y2="345.64" stroke="#333" stroke-width="0.9" />
<line x1="332.32" y1="348.56" x2="332.32" y2="345.64" stroke="#333" stroke-width="0.9" />
<line x1="334.62" y1="348.56" x2="334.62" y2="345.64" stroke="#333" stroke-width="0.9" />
<line x1="336.91" y1="348.56" x2="336.91" y2="345.64" stroke="#333" stroke-width="0.9" />
<line x1="339.21" y1="348.56" x2="339.21" y2="345.64" stroke="#333" stroke-width="0.9" />
<line x1="341.50" y1="348.56" x2="341.50" y2="345.64" stroke="#333" stroke-width="0.9" />
<polyline points="203.85,365.30 206.14,365.30 208.44,365.30 210.73,365.30 213.03,365.30 215.32,365.30 217.62,365.30 219.91,365.30 222.20,365.30 224.50,365.30 226.79,364.94 229.09,364.21 231.38,363.12 233.67,360.39 235.97,356.56 238.26,351.83 240.56,346.37 242.85,340.37 245.14,335.09 247.44,330.54 249.73,326.72 252.03,324.53 254.32,323.08 256.62,322.44 258.91,322.71 261.20,323.80 263.50,325.26 265.79,326.99 268.09,328.90 270.38,330.81 272.68,332.72 274.97,334.54 277.26,336.18 279.56,337.55 281.85,338.91 284.15,340.18 286.44,341.28 288.73,342.10 291.03,342.91 293.32,343.64 295.62,344.19 297.91,344.73 300.20,345.28 302.50,345.74 304.79,346.01 307.09,346.28 309.38,346.46 311.68,346.60 313.97,346.74 316.26,346.80 318.56,346.87 320.85,346.94 323.15,347.01 325.44,347.08 327.74,347.10 330.03,347.10 332.32,347.10 334.62,347.10 336.91,347.10 339.21,347.10 341.50,347.10" fill="none" stroke="#3a3a3a" stroke-width="1.0"  stroke-linejoin="round" />
<line x1="231.38" y1="356.93" x2="231.38" y2="353.29" stroke="#111" stroke-width="1.0" />
<line x1="233.67" y1="350.92" x2="233.67" y2="347.28" stroke="#111" stroke-width="1.0" />
<line x1="235.97" y1="344.76" x2="235.97" y2="340.70" stroke="#111" stroke-width="1.0" />
<line x1="238.26" y1="338.80" x2="238.26" y2="333.56" stroke="#111" stroke-width="1.0" />
<line x1="240.56" y1="332.84" x2="240.56" y2="326.42" stroke="#111" stroke-width="1.0" />
<line x1="242.85" y1="327.87" x2="242.85" y2="320.47" stroke="#111" stroke-width="1.0" />
<line x1="245.14" y1="323.89" x2="245.14" y2="315.70" stroke="#111" stroke-width="1.0" />
<line x1="247.44" y1="320.91" x2="247.44" y2="312.13" stroke="#111" stroke-width="1.0" />
<line x1="249.73" y1="318.93" x2="249.73" y2="309.75" stroke="#111" stroke-width="1.0" />
<line x1="252.03" y1="317.93" x2="252.03" y2="308.56" stroke="#111" stroke-width="1.0" />
<line x1="254.32" y1="317.93" x2="254.32" y2="308.56" stroke="#111" stroke-width="1.0" />
<line x1="256.62" y1="318.76" x2="256.62" y2="309.56" stroke="#111" stroke-width="1.0" />
<line x1="258.91" y1="320.25" x2="258.91" y2="311.34" stroke="#111" stroke-width="1.0" />
<line x1="261.20" y1="321.99" x2="261.20" y2="313.42" stroke="#111" stroke-width="1.0" />
<line x1="263.50" y1="323.89" x2="263.50" y2="315.70" stroke="#111" stroke-width="1.0" />
<line x1="265.79" y1="325.88" x2="265.79" y2="318.09" stroke="#111" stroke-width="1.0" />
<line x1="268.09" y1="327.87" x2="268.09" y2="320.47" stroke="#111" stroke-width="1.0" />
<line x1="270.38" y1="329.61" x2="270.38" y2="322.55" stroke="#111" stroke-width="1.0" />
<line x1="272.68" y1="331.35" x2="272.68" y2="324.63" stroke="#111" stroke-width="1.0" />
<line x1="274.97" y1="333.00" x2="274.97" y2="326.62" stroke="#111" stroke-width="1.0" />
<line x1="277.26" y1="334.49" x2="277.26" y2="328.40" stroke="#111" stroke-width="1.0" />
<line x1="279.56" y1="335.74" x2="279.56" y2="329.89" stroke="#111" stroke-width="1.0" />
<line x1="281.85" y1="336.81" x2="281.85" y2="331.18" stroke="#111" stroke-width="1.0" />
<line x1="284.15" y1="337.81" x2="284.15" y2="332.37" stroke="#111" stroke-width="1.0" />
<line x1="286.44" y1="338.80" x2="286.44" y2="333.56" stroke="#111" stroke-width="1.0" />
<line x1="288.73" y1="339.55" x2="288.73" y2="334.45" stroke="#111" stroke-width="1.0" />
<line x1="291.03" y1="340.29" x2="291.03" y2="335.34" stroke="#111" stroke-width="1.0" />
<line x1="293.32" y1="340.95" x2="293.32" y2="336.14" stroke="#111" stroke-width="1.0" />
<line x1="295.62" y1="341.45" x2="295.62" y2="336.73" stroke="#111" stroke-width="1.0" />
<line x1="297.91" y1="341.95" x2="297.91" y2="337.33" stroke="#111" stroke-width="1.0" />
<line x1="300.20" y1="342.28" x2="300.20" y2="337.73" stroke="#111" stroke-width="1.0" />
<line x1="302.50" y1="342.53" x2="302.50" y2="338.02" stroke="#111" stroke-width="1.0" />
<line x1="304.79" y1="342.78" x2="304.79" y2="338.32" stroke="#111" stroke-width="1.0" />
<line x1="307.09" y1="343.02" x2="307.09" y2="338.62" stroke="#111" stroke-width="1.0" />
<line x1="309.38" y1="343.19" x2="309.38" y2="338.82" stroke="#111" stroke-width="1.0" />
<line x1="311.68" y1="343.31" x2="311.68" y2="338.97" stroke="#111" stroke-width="1.0" />
<line x1="313.97" y1="343.44" x2="313.97" y2="339.11" stroke="#111" stroke-width="1.0" />
<line x1="316.26" y1="343.50" x2="316.26" y2="339.19" stroke="#111" stroke-width="1.0" />
<line x1="318.56" y1="343.56" x2="318.56" y2="339.26" stroke="#111" stroke-width="1.0" />
<line x1="320.85" y1="343.62" x2="320.85" y2="339.34" stroke="#111" stroke-width="1.0" />
<line x1="323.15" y1="343.69" x2="323.15" y2="339.41" stroke="#111" stroke-width="1.0" />
<line x1="325.44" y1="343.75" x2="325.44" y2="339.49" stroke="#111" stroke-width="1.0" />
<line x1="327.74" y1="343.80" x2="327.74" y2="339.55" stroke="#111" stroke-width="1.0" />
<line x1="330.03" y1="343.85" x2="330.03" y2="339.61" stroke="#111" stroke-width="1.0" />
<line x1="332.32" y1="343.90" x2="332.32" y2="339.67" stroke="#111" stroke-width="1.0" />
<line x1="334.62" y1="343.95" x2="334.62" y2="339.73" stroke="#111" stroke-width="1.0" />
<line x1="336.91" y1="344.00" x2="336.91" y2="339.79" stroke="#111" stroke-width="1.0" />
<line x1="339.21" y1="344.05" x2="339.21" y2="339.85" stroke="#111" stroke-width="1.0" />
<line x1="341.50" y1="344.10" x2="341.50" y2="339.91" stroke="#111" stroke-width="1.0" />
<polyline points="203.85,365.30 206.14,365.30 208.44,365.30 210.73,365.30 213.03,365.30 215.32,365.30 217.62,365.30 219.91,365.30 222.20,364.94 224.50,364.12 226.79,362.39 229.09,359.48 231.38,355.11 233.67,349.10 235.97,342.73 238.26,336.18 240.56,329.63 242.85,324.17 245.14,319.80 247.44,316.52 249.73,314.34 252.03,313.25 254.32,313.25 256.62,314.16 258.91,315.80 261.20,317.71 263.50,319.80 265.79,321.98 268.09,324.17 270.38,326.08 272.68,327.99 274.97,329.81 277.26,331.45 279.56,332.81 281.85,334.00 284.15,335.09 286.44,336.18 288.73,337.00 291.03,337.82 293.32,338.55 295.62,339.09 297.91,339.64 300.20,340.00 302.50,340.28 304.79,340.55 307.09,340.82 309.38,341.00 311.68,341.14 313.97,341.28 316.26,341.34 318.56,341.41 320.85,341.48 323.15,341.55 325.44,341.62 327.74,341.68 330.03,341.73 332.32,341.79 334.62,341.84 336.91,341.89 339.21,341.95 341.50,342.00" fill="none" stroke="#0a0a0a" stroke-width="2.05"  stroke-linejoin="round" />
<line x1="203.85" y1="291.90" x2="203.85" y2="365.90" stroke="#2a2a2a" stroke-width="1.25" />
<line x1="203.25" y1="365.30" x2="342.10" y2="365.30" stroke="#2a2a2a" stroke-width="1.25" />
<line x1="200.45" y1="365.30" x2="203.85" y2="365.30" stroke="#2a2a2a" stroke-width="1.1" />
<text x="198.8" y="368.4" font-size="9.0" text-anchor="end" font-weight="normal" fill="#000" stroke="#000" stroke-width="0.24" >0</text>
<line x1="200.45" y1="350.74" x2="203.85" y2="350.74" stroke="#2a2a2a" stroke-width="1.1" />
<text x="198.8" y="353.8" font-size="9.0" text-anchor="end" font-weight="normal" fill="#000" stroke="#000" stroke-width="0.24" >20</text>
<line x1="200.45" y1="336.18" x2="203.85" y2="336.18" stroke="#2a2a2a" stroke-width="1.1" />
<text x="198.8" y="339.2" font-size="9.0" text-anchor="end" font-weight="normal" fill="#000" stroke="#000" stroke-width="0.24" >40</text>
<line x1="200.45" y1="321.62" x2="203.85" y2="321.62" stroke="#2a2a2a" stroke-width="1.1" />
<text x="198.8" y="324.7" font-size="9.0" text-anchor="end" font-weight="normal" fill="#000" stroke="#000" stroke-width="0.24" >60</text>
<line x1="200.45" y1="307.06" x2="203.85" y2="307.06" stroke="#2a2a2a" stroke-width="1.1" />
<text x="198.8" y="310.1" font-size="9.0" text-anchor="end" font-weight="normal" fill="#000" stroke="#000" stroke-width="0.24" >80</text>
<line x1="200.45" y1="292.50" x2="203.85" y2="292.50" stroke="#2a2a2a" stroke-width="1.1" />
<text x="198.8" y="295.6" font-size="9.0" text-anchor="end" font-weight="normal" fill="#000" stroke="#000" stroke-width="0.24" >100</text>
<line x1="203.85" y1="365.30" x2="203.85" y2="368.10" stroke="#2a2a2a" stroke-width="1.1" />
<text x="203.2" y="380.3" font-size="9.0" text-anchor="middle" font-weight="normal" fill="#000" stroke="#000" stroke-width="0.24" >0</text>
<line x1="249.73" y1="365.30" x2="249.73" y2="368.10" stroke="#2a2a2a" stroke-width="1.1" />
<text x="249.1" y="380.3" font-size="9.0" text-anchor="middle" font-weight="normal" fill="#000" stroke="#000" stroke-width="0.24" >150</text>
<line x1="295.62" y1="365.30" x2="295.62" y2="368.10" stroke="#2a2a2a" stroke-width="1.1" />
<text x="295.0" y="380.3" font-size="9.0" text-anchor="middle" font-weight="normal" fill="#000" stroke="#000" stroke-width="0.24" >300</text>
<line x1="341.50" y1="365.30" x2="341.50" y2="368.10" stroke="#2a2a2a" stroke-width="1.1" />
<text x="340.9" y="380.3" font-size="9.0" text-anchor="middle" font-weight="normal" fill="#000" stroke="#000" stroke-width="0.24" >450</text>
<text x="276.5" y="393.9" font-size="9.3" text-anchor="middle" font-weight="normal" fill="#000" stroke="#000" stroke-width="0.24" >Time (s)</text>
<text transform="translate(182.2,330.1) rotate(-90)" font-size="9.7" text-anchor="middle" fill="#000" stroke="#000" stroke-width="0.2">10<tspan dy="-3.4" font-size="5.2" stroke-width="0.1" >4</tspan><tspan dy="3.4" font-size="9.3"> RLU</tspan></text>
<line x1="213.60" y1="351.90" x2="213.60" y2="364.70" stroke="#3a3a3a" stroke-width="0.95" />
<polyline points="211.40,362.10 213.60,364.70 215.80,362.10" fill="none" stroke="#3a3a3a" stroke-width="0.95"  stroke-linejoin="round" />
<polyline points="264.50,286.00 273.50,286.00" fill="none" stroke="#777" stroke-width="0.9"  stroke-linejoin="round" />
<rect x="268.30" y="285.30" width="1.40" height="1.40" rx="0.35" fill="#666"/>
<text x="277.5" y="289.3" font-size="9.35" text-anchor="start" font-weight="normal" fill="#000" stroke="#000" stroke-width="0.24" >RhoB KO<tspan dy="-3.2" font-size="5.5" stroke-width="0.1" >2</tspan></text>
<polyline points="264.50,295.60 273.50,295.60" fill="none" stroke="#0a0a0a" stroke-width="2.1"  stroke-linejoin="round" />
<text x="277.5" y="298.9" font-size="9.35" text-anchor="start" font-weight="normal" fill="#000" stroke="#000" stroke-width="0.24" >dKO</text>
<polyline points="375.90,107.79 410.30,88.09 513.50,74.93" fill="none" stroke="#555" stroke-width="1.0"  stroke-linejoin="round" />
<line x1="410.30" y1="91.79" x2="410.30" y2="84.40" stroke="#555" stroke-width="1.2" />
<line x1="513.50" y1="76.77" x2="513.50" y2="73.08" stroke="#555" stroke-width="1.2" />
<polyline points="375.90,107.79 410.30,75.79 513.50,62.00" fill="none" stroke="#0a0a0a" stroke-width="1.15"  stroke-linejoin="round" />
<line x1="410.30" y1="78.25" x2="410.30" y2="73.33" stroke="#0a0a0a" stroke-width="1.6" />
<line x1="513.50" y1="64.34" x2="513.50" y2="59.66" stroke="#0a0a0a" stroke-width="1.6" />
<line x1="375.90" y1="35.80" x2="375.90" y2="110.85" stroke="#2a2a2a" stroke-width="1.25" />
<line x1="375.30" y1="110.25" x2="514.10" y2="110.25" stroke="#2a2a2a" stroke-width="1.25" />
<line x1="372.50" y1="110.25" x2="375.90" y2="110.25" stroke="#2a2a2a" stroke-width="1.1" />
<text x="370.9" y="113.3" font-size="9.0" text-anchor="end" font-weight="normal" fill="#000" stroke="#000" stroke-width="0.24" >0</text>
<line x1="372.50" y1="85.63" x2="375.90" y2="85.63" stroke="#2a2a2a" stroke-width="1.1" />
<text x="370.9" y="88.7" font-size="9.0" text-anchor="end" font-weight="normal" fill="#000" stroke="#000" stroke-width="0.24" >20</text>
<line x1="372.50" y1="61.02" x2="375.90" y2="61.02" stroke="#2a2a2a" stroke-width="1.1" />
<text x="370.9" y="64.1" font-size="9.0" text-anchor="end" font-weight="normal" fill="#000" stroke="#000" stroke-width="0.24" >40</text>
<line x1="372.50" y1="36.40" x2="375.90" y2="36.40" stroke="#2a2a2a" stroke-width="1.1" />
<text x="370.9" y="39.5" font-size="9.0" text-anchor="end" font-weight="normal" fill="#000" stroke="#000" stroke-width="0.24" >60</text>
<line x1="375.90" y1="110.25" x2="375.90" y2="113.05" stroke="#2a2a2a" stroke-width="1.1" />
<text x="375.6" y="124.0" font-size="9.0" text-anchor="middle" font-weight="normal" fill="#000" stroke="#000" stroke-width="0.24" >0</text>
<line x1="421.77" y1="110.25" x2="421.77" y2="113.05" stroke="#2a2a2a" stroke-width="1.1" />
<text x="421.5" y="124.0" font-size="9.0" text-anchor="middle" font-weight="normal" fill="#000" stroke="#000" stroke-width="0.24" >20</text>
<line x1="467.63" y1="110.25" x2="467.63" y2="113.05" stroke="#2a2a2a" stroke-width="1.1" />
<text x="467.3" y="124.0" font-size="9.0" text-anchor="middle" font-weight="normal" fill="#000" stroke="#000" stroke-width="0.24" >40</text>
<line x1="513.50" y1="110.25" x2="513.50" y2="113.05" stroke="#2a2a2a" stroke-width="1.1" />
<text x="513.2" y="124.0" font-size="9.0" text-anchor="middle" font-weight="normal" fill="#000" stroke="#000" stroke-width="0.24" >60</text>
<text x="449.9" y="138.4" font-size="9.3" text-anchor="middle" font-weight="normal" fill="#000" stroke="#000" stroke-width="0.24" >Time (min)</text>
<text transform="translate(355.2,74.1) rotate(-90)" font-size="9.7" text-anchor="middle" fill="#000" stroke="#000" stroke-width="0.2">10<tspan dy="-3.4" font-size="5.2" stroke-width="0.1" >2</tspan><tspan dy="3.4" font-size="9.3"> RFU</tspan></text>
<polyline points="439.80,29.20 445.70,29.20" fill="none" stroke="#555" stroke-width="0.9"  stroke-linejoin="round" />
<text x="450.3" y="32.5" font-size="9.35" text-anchor="start" font-weight="normal" fill="#000" stroke="#000" stroke-width="0.24" >WT<tspan dy="-3.2" font-size="5.5" stroke-width="0.1" >1</tspan></text>
<polyline points="439.50,38.80 446.00,38.80" fill="none" stroke="#0a0a0a" stroke-width="1.4"  stroke-linejoin="round" />
<text x="450.3" y="42.1" font-size="9.35" text-anchor="start" font-weight="normal" fill="#000" stroke="#000" stroke-width="0.24" >RhoA KO</text>
<circle cx="513.5" cy="50.9" r="1.15" fill="#222"/>
<polyline points="375.90,235.64 410.30,215.93 513.50,201.15" fill="none" stroke="#555" stroke-width="1.0"  stroke-linejoin="round" />
<line x1="410.30" y1="218.76" x2="410.30" y2="213.10" stroke="#555" stroke-width="1.2" />
<line x1="513.50" y1="203.61" x2="513.50" y2="198.69" stroke="#555" stroke-width="1.2" />
<polyline points="375.90,236.25 410.30,219.01 513.50,204.23" fill="none" stroke="#0a0a0a" stroke-width="1.15"  stroke-linejoin="round" />
<line x1="410.30" y1="222.09" x2="410.30" y2="215.93" stroke="#0a0a0a" stroke-width="1.6" />
<line x1="513.50" y1="207.31" x2="513.50" y2="201.15" stroke="#0a0a0a" stroke-width="1.6" />
<line x1="375.90" y1="163.60" x2="375.90" y2="238.70" stroke="#2a2a2a" stroke-width="1.25" />
<line x1="375.30" y1="238.10" x2="514.10" y2="238.10" stroke="#2a2a2a" stroke-width="1.25" />
<line x1="372.50" y1="238.10" x2="375.90" y2="238.10" stroke="#2a2a2a" stroke-width="1.1" />
<text x="370.9" y="241.2" font-size="9.0" text-anchor="end" font-weight="normal" fill="#000" stroke="#000" stroke-width="0.24" >0</text>
<line x1="372.50" y1="213.47" x2="375.90" y2="213.47" stroke="#2a2a2a" stroke-width="1.1" />
<text x="370.9" y="216.5" font-size="9.0" text-anchor="end" font-weight="normal" fill="#000" stroke="#000" stroke-width="0.24" >20</text>
<line x1="372.50" y1="188.83" x2="375.90" y2="188.83" stroke="#2a2a2a" stroke-width="1.1" />
<text x="370.9" y="191.9" font-size="9.0" text-anchor="end" font-weight="normal" fill="#000" stroke="#000" stroke-width="0.24" >40</text>
<line x1="372.50" y1="164.20" x2="375.90" y2="164.20" stroke="#2a2a2a" stroke-width="1.1" />
<text x="370.9" y="167.2" font-size="9.0" text-anchor="end" font-weight="normal" fill="#000" stroke="#000" stroke-width="0.24" >60</text>
<line x1="375.90" y1="238.10" x2="375.90" y2="240.90" stroke="#2a2a2a" stroke-width="1.1" />
<text x="375.6" y="251.8" font-size="9.0" text-anchor="middle" font-weight="normal" fill="#000" stroke="#000" stroke-width="0.24" >0</text>
<line x1="421.77" y1="238.10" x2="421.77" y2="240.90" stroke="#2a2a2a" stroke-width="1.1" />
<text x="421.5" y="251.8" font-size="9.0" text-anchor="middle" font-weight="normal" fill="#000" stroke="#000" stroke-width="0.24" >20</text>
<line x1="467.63" y1="238.10" x2="467.63" y2="240.90" stroke="#2a2a2a" stroke-width="1.1" />
<text x="467.3" y="251.8" font-size="9.0" text-anchor="middle" font-weight="normal" fill="#000" stroke="#000" stroke-width="0.24" >40</text>
<line x1="513.50" y1="238.10" x2="513.50" y2="240.90" stroke="#2a2a2a" stroke-width="1.1" />
<text x="513.2" y="251.8" font-size="9.0" text-anchor="middle" font-weight="normal" fill="#000" stroke="#000" stroke-width="0.24" >60</text>
<text x="449.9" y="265.8" font-size="9.3" text-anchor="middle" font-weight="normal" fill="#000" stroke="#000" stroke-width="0.24" >Time (min)</text>
<text transform="translate(355.2,201.9) rotate(-90)" font-size="9.7" text-anchor="middle" fill="#000" stroke="#000" stroke-width="0.2">10<tspan dy="-3.4" font-size="5.2" stroke-width="0.1" >2</tspan><tspan dy="3.4" font-size="9.3"> RFU</tspan></text>
<polyline points="439.80,157.00 445.70,157.00" fill="none" stroke="#555" stroke-width="0.9"  stroke-linejoin="round" />
<text x="450.3" y="160.3" font-size="9.35" text-anchor="start" font-weight="normal" fill="#000" stroke="#000" stroke-width="0.24" >WT<tspan dy="-3.2" font-size="5.5" stroke-width="0.1" >2</tspan></text>
<polyline points="439.50,166.60 446.00,166.60" fill="none" stroke="#0a0a0a" stroke-width="1.4"  stroke-linejoin="round" />
<text x="450.3" y="169.9" font-size="9.35" text-anchor="start" font-weight="normal" fill="#000" stroke="#000" stroke-width="0.24" >RhoB KO<tspan dy="-3.2" font-size="5.5" stroke-width="0.1" >1</tspan></text>
<polyline points="375.90,363.37 410.30,340.52 513.50,336.19" fill="none" stroke="#555" stroke-width="1.0"  stroke-linejoin="round" />
<line x1="410.30" y1="341.75" x2="410.30" y2="339.28" stroke="#555" stroke-width="1.2" />
<line x1="513.50" y1="337.18" x2="513.50" y2="335.21" stroke="#555" stroke-width="1.2" />
<polyline points="375.90,362.13 410.30,322.61 513.50,309.02" fill="none" stroke="#0a0a0a" stroke-width="1.15"  stroke-linejoin="round" />
<line x1="410.30" y1="331.25" x2="410.30" y2="313.97" stroke="#0a0a0a" stroke-width="1.6" />
<line x1="513.50" y1="317.67" x2="513.50" y2="300.38" stroke="#0a0a0a" stroke-width="1.6" />
<line x1="375.90" y1="289.90" x2="375.90" y2="365.20" stroke="#2a2a2a" stroke-width="1.25" />
<line x1="375.30" y1="364.60" x2="514.10" y2="364.60" stroke="#2a2a2a" stroke-width="1.25" />
<line x1="372.50" y1="364.60" x2="375.90" y2="364.60" stroke="#2a2a2a" stroke-width="1.1" />
<text x="370.9" y="367.7" font-size="9.0" text-anchor="end" font-weight="normal" fill="#000" stroke="#000" stroke-width="0.24" >0</text>
<line x1="372.50" y1="339.90" x2="375.90" y2="339.90" stroke="#2a2a2a" stroke-width="1.1" />
<text x="370.9" y="343.0" font-size="9.0" text-anchor="end" font-weight="normal" fill="#000" stroke="#000" stroke-width="0.24" >20</text>
<line x1="372.50" y1="315.20" x2="375.90" y2="315.20" stroke="#2a2a2a" stroke-width="1.1" />
<text x="370.9" y="318.2" font-size="9.0" text-anchor="end" font-weight="normal" fill="#000" stroke="#000" stroke-width="0.24" >40</text>
<line x1="372.50" y1="290.50" x2="375.90" y2="290.50" stroke="#2a2a2a" stroke-width="1.1" />
<text x="370.9" y="293.6" font-size="9.0" text-anchor="end" font-weight="normal" fill="#000" stroke="#000" stroke-width="0.24" >60</text>
<line x1="375.90" y1="364.60" x2="375.90" y2="367.40" stroke="#2a2a2a" stroke-width="1.1" />
<text x="375.6" y="378.3" font-size="9.0" text-anchor="middle" font-weight="normal" fill="#000" stroke="#000" stroke-width="0.24" >0</text>
<line x1="421.77" y1="364.60" x2="421.77" y2="367.40" stroke="#2a2a2a" stroke-width="1.1" />
<text x="421.5" y="378.3" font-size="9.0" text-anchor="middle" font-weight="normal" fill="#000" stroke="#000" stroke-width="0.24" >20</text>
<line x1="467.63" y1="364.60" x2="467.63" y2="367.40" stroke="#2a2a2a" stroke-width="1.1" />
<text x="467.3" y="378.3" font-size="9.0" text-anchor="middle" font-weight="normal" fill="#000" stroke="#000" stroke-width="0.24" >40</text>
<line x1="513.50" y1="364.60" x2="513.50" y2="367.40" stroke="#2a2a2a" stroke-width="1.1" />
<text x="513.2" y="378.3" font-size="9.0" text-anchor="middle" font-weight="normal" fill="#000" stroke="#000" stroke-width="0.24" >60</text>
<text x="449.9" y="394.4" font-size="9.3" text-anchor="middle" font-weight="normal" fill="#000" stroke="#000" stroke-width="0.24" >Time (min)</text>
<text transform="translate(355.2,328.4) rotate(-90)" font-size="9.7" text-anchor="middle" fill="#000" stroke="#000" stroke-width="0.2">10<tspan dy="-3.4" font-size="5.2" stroke-width="0.1" >2</tspan><tspan dy="3.4" font-size="9.3"> RFU</tspan></text>
<polyline points="439.80,283.80 445.70,283.80" fill="none" stroke="#555" stroke-width="0.9"  stroke-linejoin="round" />
<text x="450.3" y="287.1" font-size="9.35" text-anchor="start" font-weight="normal" fill="#000" stroke="#000" stroke-width="0.24" >RhoB KO<tspan dy="-3.2" font-size="5.5" stroke-width="0.1" >2</tspan></text>
<polyline points="439.50,293.40 446.00,293.40" fill="none" stroke="#0a0a0a" stroke-width="1.4"  stroke-linejoin="round" />
<text x="450.3" y="296.7" font-size="9.35" text-anchor="start" font-weight="normal" fill="#000" stroke="#000" stroke-width="0.24" >dKO</text>
<circle cx="513.5" cy="292.4" r="1.15" fill="#222"/>
<text x="1.1" y="9.3" font-size="10.9" text-anchor="start" font-weight="bold" fill="#000" stroke="#000" stroke-width="0.2" >A</text>
<text x="56.0" y="9.5" font-size="11.7" text-anchor="start" font-weight="normal" fill="#000" stroke="#000" stroke-width="0.24" >fMLF suspension</text>
<text x="174.7" y="9.3" font-size="10.9" text-anchor="start" font-weight="bold" fill="#000" stroke="#000" stroke-width="0.2" >B</text>
<text x="230.2" y="9.5" font-size="11.7" text-anchor="start" font-weight="normal" fill="#000" stroke="#000" stroke-width="0.24" >PMA suspension</text>
<text x="348.2" y="9.4" font-size="10.9" text-anchor="start" font-weight="bold" fill="#000" stroke="#000" stroke-width="0.2" >C</text>
<text x="404.0" y="9.5" font-size="11.7" text-anchor="start" font-weight="normal" fill="#000" stroke="#000" stroke-width="0.24" >fMLF attached</text>
<text x="0.0" y="415.0" font-size="12.2" text-anchor="start" font-weight="bold" fill="#000" stroke="#000" stroke-width="0.2" >D</text>
<text x="25.3" y="430.4" font-size="9.5" text-anchor="middle" font-weight="normal" fill="#000" stroke="#000" stroke-width="0.24" >Unstim</text>
<text x="71.0" y="430.4" font-size="9.5" text-anchor="middle" font-weight="normal" fill="#000" stroke="#000" stroke-width="0.24" >fMLF</text>
<text x="116.0" y="430.6" font-size="9.5" text-anchor="middle" font-weight="normal" fill="#000" stroke="#000" stroke-width="0.24" >TNFα/fMLF</text>
<text x="159.3" y="431.4" font-size="9.5" text-anchor="middle" font-weight="normal" fill="#000" stroke="#000" stroke-width="0.24" >PMA</text>
<line x1="3.90" y1="433.20" x2="46.60" y2="433.20" stroke="#000" stroke-width="1.7" />
<line x1="48.00" y1="433.20" x2="90.80" y2="433.20" stroke="#000" stroke-width="1.7" />
<line x1="92.30" y1="433.20" x2="136.00" y2="433.20" stroke="#000" stroke-width="1.7" />
<line x1="137.20" y1="433.20" x2="180.20" y2="433.20" stroke="#000" stroke-width="1.7" />
<g clip-path="url(#cD1)"><clipPath id="cD1"><rect x="3.9" y="435.7" width="175.7" height="12.5"/></clipPath>
<rect x="3.9" y="435.7" width="175.7" height="12.5" fill="#949494"/>
<g filter="url(#bl)">
<rect x="9.9" y="439.7" width="15.5" height="4.0" rx="2.0" fill="#1c1c1c" opacity="0.95"/>
<rect x="30.0" y="439.8" width="12.0" height="2.0" rx="1.0" fill="#555" opacity="0.3"/>
<rect x="52.8" y="440.4" width="16.5" height="4.3" rx="2.1" fill="#161616" opacity="0.97"/>
<rect x="74.0" y="440.2" width="12.0" height="2.0" rx="1.0" fill="#555" opacity="0.2"/>
<rect x="94.8" y="439.4" width="15.5" height="4.3" rx="2.1" fill="#161616" opacity="0.97"/>
<rect x="116.0" y="440.1" width="15.0" height="3.2" rx="1.6" fill="#262626" opacity="0.85"/>
<rect x="136.9" y="438.6" width="16.5" height="4.5" rx="2.2" fill="#101010" opacity="1"/>
<rect x="159.5" y="438.6" width="15.0" height="2.2" rx="1.1" fill="#444" opacity="0.55"/>
</g>
<rect x="1.9" y="433.7" width="179.7" height="16.5" filter="url(#noise)" opacity="0.25"/>
</g>
<g clip-path="url(#cD2)"><clipPath id="cD2"><rect x="3.9" y="450.8" width="175.7" height="12.9"/></clipPath>
<rect x="3.9" y="450.8" width="175.7" height="12.9" fill="#929292"/>
<g filter="url(#bl)">
<rect x="25.2" y="453.0" width="22.0" height="7.6" rx="3.8" fill="#141414" opacity="0.98"/>
<rect x="69.8" y="454.3" width="20.0" height="6.8" rx="3.4" fill="#141414" opacity="0.98"/>
<rect x="112.8" y="453.7" width="21.5" height="7.2" rx="3.6" fill="#141414" opacity="0.98"/>
<rect x="155.6" y="453.1" width="23.5" height="7.4" rx="3.7" fill="#141414" opacity="0.98"/>
</g>
<rect x="1.9" y="448.8" width="179.7" height="16.9" filter="url(#noise)" opacity="0.25"/>
</g>
<text x="181.6" y="446.0" font-size="9.5" text-anchor="start" font-weight="normal" fill="#000" stroke="#000" stroke-width="0.24" >p47<tspan dy="-3" font-size="5.6" font-style="italic" stroke-width="0.15" fill="#222">phox</tspan></text>
<text x="181.6" y="461.0" font-size="9.5" text-anchor="start" font-weight="normal" fill="#000" stroke="#000" stroke-width="0.24" >p22<tspan dy="-3" font-size="5.6" font-style="italic" stroke-width="0.15" fill="#222">phox</tspan></text>
<text x="16.3" y="472.2" font-size="9.5" text-anchor="middle" font-weight="normal" fill="#000" stroke="#000" stroke-width="0.24" >C</text>
<text x="36.5" y="472.2" font-size="9.5" text-anchor="middle" font-weight="normal" fill="#000" stroke="#000" stroke-width="0.24" >M</text>
<text x="59.6" y="472.2" font-size="9.5" text-anchor="middle" font-weight="normal" fill="#000" stroke="#000" stroke-width="0.24" >C</text>
<text x="79.2" y="472.2" font-size="9.5" text-anchor="middle" font-weight="normal" fill="#000" stroke="#000" stroke-width="0.24" >M</text>
<text x="102.5" y="472.2" font-size="9.5" text-anchor="middle" font-weight="normal" fill="#000" stroke="#000" stroke-width="0.24" >C</text>
<text x="122.7" y="472.2" font-size="9.5" text-anchor="middle" font-weight="normal" fill="#000" stroke="#000" stroke-width="0.24" >M</text>
<text x="145.8" y="472.2" font-size="9.5" text-anchor="middle" font-weight="normal" fill="#000" stroke="#000" stroke-width="0.24" >C</text>
<text x="167.0" y="472.2" font-size="9.5" text-anchor="middle" font-weight="normal" fill="#000" stroke="#000" stroke-width="0.24" >M</text>
<text x="92.0" y="490.5" font-size="9.5" text-anchor="middle" font-weight="normal" fill="#000" stroke="#000" stroke-width="0.24" >Wild-type</text>
<text x="215.2" y="414.8" font-size="11.8" text-anchor="start" font-weight="bold" fill="#000" stroke="#000" stroke-width="0.2" >E</text>
<line x1="224.90" y1="419.40" x2="229.10" y2="419.40" stroke="#1a1a1a" stroke-width="1.15" />
<line x1="227.00" y1="417.30" x2="227.00" y2="421.50" stroke="#1a1a1a" stroke-width="1.15" />
<line x1="225.70" y1="428.50" x2="228.30" y2="428.50" stroke="#222" stroke-width="1.1" />
<line x1="248.10" y1="419.40" x2="252.30" y2="419.40" stroke="#1a1a1a" stroke-width="1.15" />
<line x1="250.20" y1="417.30" x2="250.20" y2="421.50" stroke="#1a1a1a" stroke-width="1.15" />
<line x1="248.10" y1="428.10" x2="252.30" y2="428.10" stroke="#1a1a1a" stroke-width="1.15" />
<line x1="250.20" y1="426.00" x2="250.20" y2="430.20" stroke="#1a1a1a" stroke-width="1.15" />
<line x1="271.10" y1="419.40" x2="275.30" y2="419.40" stroke="#1a1a1a" stroke-width="1.15" />
<line x1="273.20" y1="417.30" x2="273.20" y2="421.50" stroke="#1a1a1a" stroke-width="1.15" />
<line x1="271.90" y1="428.50" x2="274.50" y2="428.50" stroke="#222" stroke-width="1.1" />
<line x1="293.70" y1="419.40" x2="297.90" y2="419.40" stroke="#1a1a1a" stroke-width="1.15" />
<line x1="295.80" y1="417.30" x2="295.80" y2="421.50" stroke="#1a1a1a" stroke-width="1.15" />
<line x1="293.70" y1="428.10" x2="297.90" y2="428.10" stroke="#1a1a1a" stroke-width="1.15" />
<line x1="295.80" y1="426.00" x2="295.80" y2="430.20" stroke="#1a1a1a" stroke-width="1.15" />
<text x="312.5" y="422.4" font-size="9.5" text-anchor="start" font-weight="normal" fill="#000" stroke="#000" stroke-width="0.24" >fMLF</text>
<text x="312.5" y="431.1" font-size="9.5" text-anchor="start" font-weight="normal" fill="#000" stroke="#000" stroke-width="0.24" >TNFα</text>
<g clip-path="url(#cE1)"><clipPath id="cE1"><rect x="215.7" y="431.2" width="94.7" height="12.7"/></clipPath>
<rect x="215.7" y="431.2" width="94.7" height="12.7" fill="#9c9c9c"/>
<g filter="url(#bl)">
<rect x="219.5" y="437.5" width="17.0" height="2.2" rx="1.1" fill="#333" opacity="0.45"/>
<rect x="241.5" y="435.9" width="19.0" height="2.6" rx="1.3" fill="#2a2a2a" opacity="0.72"/>
<rect x="266.5" y="435.4" width="19.0" height="3.2" rx="1.6" fill="#2a2a2a" opacity="0.7"/>
<rect x="267.0" y="439.9" width="18.0" height="2.2" rx="1.1" fill="#444" opacity="0.3"/>
<rect x="288.0" y="435.2" width="20.0" height="3.2" rx="1.6" fill="#161616" opacity="0.88"/>
<rect x="290.0" y="440.3" width="16.0" height="1.8" rx="0.9" fill="#444" opacity="0.3"/>
</g>
<rect x="213.7" y="429.2" width="98.7" height="16.7" filter="url(#noise)" opacity="0.4"/>
</g>
<g clip-path="url(#cE2)"><clipPath id="cE2"><rect x="215.7" y="446.8" width="94.7" height="12.6"/></clipPath>
<rect x="215.7" y="446.8" width="94.7" height="12.6" fill="#a2a2a2"/>
<g filter="url(#bl)">
<rect x="220.0" y="451.6" width="16.0" height="2.0" rx="1.0" fill="#333" opacity="0.5"/>
<rect x="242.0" y="450.9" width="18.0" height="2.6" rx="1.3" fill="#222" opacity="0.8"/>
<rect x="266.5" y="450.2" width="19.0" height="2.2" rx="1.1" fill="#2a2a2a" opacity="0.75"/>
<rect x="288.0" y="449.8" width="20.0" height="3.2" rx="1.6" fill="#161616" opacity="0.9"/>
</g>
<rect x="213.7" y="444.8" width="98.7" height="16.6" filter="url(#noise)" opacity="0.4"/>
</g>
<g clip-path="url(#cE3)"><clipPath id="cE3"><rect x="215.7" y="462.3" width="94.7" height="12.4"/></clipPath>
<rect x="215.7" y="462.3" width="94.7" height="12.4" fill="#989898"/>
<g filter="url(#bl)">
<rect x="218.5" y="466.7" width="19.0" height="3.0" rx="1.5" fill="#1a1a1a" opacity="0.9"/>
<rect x="241.0" y="465.9" width="20.0" height="3.8" rx="1.9" fill="#0a0a0a" opacity="0.98"/>
<rect x="267.0" y="465.7" width="20.0" height="3.6" rx="1.8" fill="#0a0a0a" opacity="0.98"/>
<rect x="288.0" y="465.9" width="20.0" height="3.8" rx="1.9" fill="#0a0a0a" opacity="0.98"/>
</g>
<rect x="213.7" y="460.3" width="98.7" height="16.4" filter="url(#noise)" opacity="0.4"/>
</g>
<rect x="263.3" y="430.5" width="1.0" height="45" fill="#e0e0e0"/>
<text x="312.0" y="441.8" font-size="9.5" text-anchor="start" font-weight="normal" fill="#000" stroke="#000" stroke-width="0.24" >PKCζ</text>
<text x="312.0" y="455.6" font-size="9.5" text-anchor="start" font-weight="normal" fill="#000" stroke="#000" stroke-width="0.24" >p47<tspan dy="-3" font-size="5.6" font-style="italic" stroke-width="0.15" fill="#222">phox</tspan></text>
<text x="312.0" y="471.0" font-size="9.5" text-anchor="start" font-weight="normal" fill="#000" stroke="#000" stroke-width="0.24" >p22<tspan dy="-3" font-size="5.6" font-style="italic" stroke-width="0.15" fill="#222">phox</tspan></text>
<line x1="217.50" y1="477.20" x2="259.80" y2="477.20" stroke="#000" stroke-width="1.5" />
<line x1="265.20" y1="477.20" x2="307.70" y2="477.20" stroke="#000" stroke-width="1.5" />
<text x="238.0" y="492.0" font-size="9.5" text-anchor="middle" font-weight="normal" fill="#000" stroke="#000" stroke-width="0.24" >RhoB KO<tspan dy="-3" font-size="5.5" stroke-width="0.1" >2</tspan></text>
<text x="285.6" y="487.3" font-size="9.5" text-anchor="middle" font-weight="normal" fill="#000" stroke="#000" stroke-width="0.24" >RhoA</text>
<text x="285.9" y="497.5" font-size="9.5" text-anchor="middle" font-weight="normal" fill="#000" stroke="#000" stroke-width="0.24" >RhoB dKO</text>
<text x="349.8" y="414.6" font-size="11.8" text-anchor="start" font-weight="bold" fill="#000" stroke="#000" stroke-width="0.2" >F</text>
<line x1="363.30" y1="419.80" x2="365.90" y2="419.80" stroke="#222" stroke-width="1.1" />
<line x1="363.30" y1="428.50" x2="365.90" y2="428.50" stroke="#222" stroke-width="1.1" />
<text x="388.5" y="422.4" font-size="9.5" text-anchor="middle" font-weight="normal" fill="#000" stroke="#000" stroke-width="0.24" >30</text>
<line x1="386.40" y1="428.10" x2="390.60" y2="428.10" stroke="#1a1a1a" stroke-width="1.15" />
<line x1="388.50" y1="426.00" x2="388.50" y2="430.20" stroke="#1a1a1a" stroke-width="1.15" />
<text x="411.5" y="422.4" font-size="9.5" text-anchor="middle" font-weight="normal" fill="#000" stroke="#000" stroke-width="0.24" >60</text>
<line x1="409.40" y1="428.10" x2="413.60" y2="428.10" stroke="#1a1a1a" stroke-width="1.15" />
<line x1="411.50" y1="426.00" x2="411.50" y2="430.20" stroke="#1a1a1a" stroke-width="1.15" />
<text x="435.8" y="422.4" font-size="9.5" text-anchor="middle" font-weight="normal" fill="#000" stroke="#000" stroke-width="0.24" >120</text>
<line x1="433.70" y1="428.10" x2="437.90" y2="428.10" stroke="#1a1a1a" stroke-width="1.15" />
<line x1="435.80" y1="426.00" x2="435.80" y2="430.20" stroke="#1a1a1a" stroke-width="1.15" />
<text x="458.3" y="422.4" font-size="9.5" text-anchor="middle" font-weight="normal" fill="#000" stroke="#000" stroke-width="0.24" >180</text>
<line x1="456.20" y1="428.10" x2="460.40" y2="428.10" stroke="#1a1a1a" stroke-width="1.15" />
<line x1="458.30" y1="426.00" x2="458.30" y2="430.20" stroke="#1a1a1a" stroke-width="1.15" />
<text x="466.3" y="422.4" font-size="9.3" text-anchor="start" font-weight="normal" fill="#000" stroke="#000" stroke-width="0.24" >(s)</text>
<text x="478.6" y="422.4" font-size="9.5" text-anchor="start" font-weight="normal" fill="#000" stroke="#000" stroke-width="0.24" >fMLF</text>
<text x="478.6" y="431.1" font-size="9.5" text-anchor="start" font-weight="normal" fill="#000" stroke="#000" stroke-width="0.24" >TNFα</text>
<g clip-path="url(#cF1)"><clipPath id="cF1"><rect x="350.6" y="432.6" width="118.3" height="12.4"/></clipPath>
<rect x="350.6" y="432.6" width="118.3" height="12.4" fill="#b0b0b0"/>
<g filter="url(#bl)">
<rect x="379.0" y="437.6" width="20.0" height="2.5" rx="1.2" fill="#262626" opacity="0.85"/>
<rect x="404.0" y="438.6" width="16.0" height="1.6" rx="0.8" fill="#444" opacity="0.4"/>
<rect x="428.0" y="439.1" width="14.0" height="1.4" rx="0.7" fill="#666" opacity="0.15"/>
<rect x="349.0" y="432.0" width="26.0" height="14.0" rx="7.0" fill="#888" opacity="0.3"/>
</g>
<rect x="348.6" y="430.6" width="122.3" height="16.4" filter="url(#noise)" opacity="0.4"/>
</g>
<g clip-path="url(#cF2)"><clipPath id="cF2"><rect x="350.6" y="448.6" width="118.3" height="13.0"/></clipPath>
<rect x="350.6" y="448.6" width="118.3" height="13.0" fill="#a0a0a0"/>
<g filter="url(#bl)">
<rect x="378.0" y="454.7" width="21.0" height="3.2" rx="1.6" fill="#111" opacity="0.95"/>
<rect x="402.5" y="453.5" width="19.0" height="3.4" rx="1.7" fill="#080808" opacity="1"/>
<rect x="426.0" y="453.5" width="18.0" height="2.2" rx="1.1" fill="#222" opacity="0.8"/>
<rect x="449.0" y="452.0" width="19.0" height="2.8" rx="1.4" fill="#111" opacity="0.92"/>
</g>
<rect x="348.6" y="446.6" width="122.3" height="17.0" filter="url(#noise)" opacity="0.4"/>
</g>
<g clip-path="url(#cF3)"><clipPath id="cF3"><rect x="350.6" y="464.2" width="118.3" height="12.6"/></clipPath>
<rect x="350.6" y="464.2" width="118.3" height="12.6" fill="#626262"/>
<g filter="url(#bl)">
<rect x="345.0" y="468.2" width="130.0" height="6.0" rx="3.0" fill="#1c1c1c" opacity="0.85"/>
</g>
<rect x="348.6" y="462.2" width="122.3" height="16.6" filter="url(#noise)" opacity="0.7"/>
</g>
<text x="470.4" y="442.6" font-size="9.5" text-anchor="start" font-weight="normal" fill="#000" stroke="#000" stroke-width="0.24" >pSer316</text>
<text x="470.4" y="458.4" font-size="9.5" text-anchor="start" font-weight="normal" fill="#000" stroke="#000" stroke-width="0.24" >pSer329</text>
<text x="470.4" y="475.0" font-size="9.5" text-anchor="start" font-weight="normal" fill="#000" stroke="#000" stroke-width="0.24" >p47<tspan dy="-3" font-size="5.6" font-style="italic" stroke-width="0.15" fill="#222">phox</tspan></text>
<text x="412.6" y="492.0" font-size="9.5" text-anchor="middle" font-weight="normal" fill="#000" stroke="#000" stroke-width="0.24" >Wild-type</text>
<text x="0.0" y="517.6" font-size="11.8" text-anchor="start" font-weight="bold" fill="#000" stroke="#000" stroke-width="0.2" >G</text>
<line x1="10.90" y1="521.20" x2="15.10" y2="521.20" stroke="#1a1a1a" stroke-width="1.15" />
<line x1="13.00" y1="519.10" x2="13.00" y2="523.30" stroke="#1a1a1a" stroke-width="1.15" />
<line x1="11.70" y1="530.40" x2="14.30" y2="530.40" stroke="#222" stroke-width="1.1" />
<line x1="33.50" y1="521.20" x2="37.70" y2="521.20" stroke="#1a1a1a" stroke-width="1.15" />
<line x1="35.60" y1="519.10" x2="35.60" y2="523.30" stroke="#1a1a1a" stroke-width="1.15" />
<line x1="33.50" y1="530.00" x2="37.70" y2="530.00" stroke="#1a1a1a" stroke-width="1.15" />
<line x1="35.60" y1="527.90" x2="35.60" y2="532.10" stroke="#1a1a1a" stroke-width="1.15" />
<line x1="56.60" y1="521.20" x2="60.80" y2="521.20" stroke="#1a1a1a" stroke-width="1.15" />
<line x1="58.70" y1="519.10" x2="58.70" y2="523.30" stroke="#1a1a1a" stroke-width="1.15" />
<line x1="57.40" y1="530.40" x2="60.00" y2="530.40" stroke="#222" stroke-width="1.1" />
<line x1="79.60" y1="521.20" x2="83.80" y2="521.20" stroke="#1a1a1a" stroke-width="1.15" />
<line x1="81.70" y1="519.10" x2="81.70" y2="523.30" stroke="#1a1a1a" stroke-width="1.15" />
<line x1="79.60" y1="530.00" x2="83.80" y2="530.00" stroke="#1a1a1a" stroke-width="1.15" />
<line x1="81.70" y1="527.90" x2="81.70" y2="532.10" stroke="#1a1a1a" stroke-width="1.15" />
<text x="99.2" y="524.2" font-size="9.5" text-anchor="start" font-weight="normal" fill="#000" stroke="#000" stroke-width="0.24" >fMLF</text>
<text x="99.2" y="532.9" font-size="9.5" text-anchor="start" font-weight="normal" fill="#000" stroke="#000" stroke-width="0.24" >TNFα</text>
<g clip-path="url(#cG1)"><clipPath id="cG1"><rect x="2" y="534.5" width="94.3" height="12.0"/></clipPath>
<rect x="2" y="534.5" width="94.3" height="12.0" fill="#a0a0a0"/>
<g filter="url(#bl)">
<rect x="26.5" y="538.9" width="19.0" height="2.8" rx="1.4" fill="#161616" opacity="0.92"/>
<rect x="50.0" y="538.9" width="18.0" height="2.6" rx="1.3" fill="#1c1c1c" opacity="0.88"/>
<rect x="70.5" y="537.3" width="21.0" height="3.8" rx="1.9" fill="#080808" opacity="1"/>
</g>
<rect x="0" y="532.5" width="98.3" height="16.0" filter="url(#noise)" opacity="0.4"/>
</g>
<g clip-path="url(#cG2)"><clipPath id="cG2"><rect x="2" y="550" width="94.3" height="12.5"/></clipPath>
<rect x="2" y="550" width="94.3" height="12.5" fill="#9c9c9c"/>
<g filter="url(#bl)">
<rect x="3.5" y="552.6" width="19.0" height="2.6" rx="1.3" fill="#1a1a1a" opacity="0.9"/>
<rect x="26.0" y="553.2" width="18.0" height="2.8" rx="1.4" fill="#1a1a1a" opacity="0.9"/>
<rect x="49.0" y="553.2" width="18.0" height="2.8" rx="1.4" fill="#1a1a1a" opacity="0.9"/>
<rect x="72.5" y="553.4" width="17.0" height="2.4" rx="1.2" fill="#222" opacity="0.85"/>
<rect x="51.0" y="558.3" width="8.0" height="2.6" rx="1.3" fill="#555" opacity="0.4"/>
</g>
<rect x="0" y="548" width="98.3" height="16.5" filter="url(#noise)" opacity="0.4"/>
</g>
<g clip-path="url(#cG3)"><clipPath id="cG3"><rect x="2" y="565.6" width="94.3" height="12.0"/></clipPath>
<rect x="2" y="565.6" width="94.3" height="12.0" fill="#969696"/>
<g filter="url(#bl)">
<rect x="-2.0" y="570.7" width="100.0" height="3.0" rx="1.5" fill="#333" opacity="0.6"/>
<rect x="3.0" y="570.3" width="20.0" height="4.0" rx="2.0" fill="#0c0c0c" opacity="0.97"/>
<rect x="25.0" y="569.6" width="20.0" height="4.8" rx="2.4" fill="#080808" opacity="1"/>
<rect x="48.0" y="570.2" width="20.0" height="4.2" rx="2.1" fill="#0c0c0c" opacity="0.97"/>
<rect x="71.0" y="570.2" width="20.0" height="4.0" rx="2.0" fill="#0c0c0c" opacity="0.97"/>
</g>
<rect x="0" y="563.6" width="98.3" height="16.0" filter="url(#noise)" opacity="0.4"/>
</g>
<text x="98.3" y="543.9" font-size="9.5" text-anchor="start" font-weight="normal" fill="#000" stroke="#000" stroke-width="0.24" >pSer316</text>
<text x="98.3" y="559.4" font-size="9.5" text-anchor="start" font-weight="normal" fill="#000" stroke="#000" stroke-width="0.24" >pSer329</text>
<text x="98.3" y="574.4" font-size="9.5" text-anchor="start" font-weight="normal" fill="#000" stroke="#000" stroke-width="0.24" >p47<tspan dy="-3" font-size="5.6" font-style="italic" stroke-width="0.15" fill="#222">phox</tspan></text>
<line x1="4.20" y1="580.20" x2="47.00" y2="580.20" stroke="#000" stroke-width="1.5" />
<line x1="49.60" y1="580.20" x2="93.30" y2="580.20" stroke="#000" stroke-width="1.5" />
<text x="25.0" y="595.8" font-size="9.5" text-anchor="middle" font-weight="normal" fill="#000" stroke="#000" stroke-width="0.24" >RhoB KO<tspan dy="-3" font-size="5.5" stroke-width="0.1" >2</tspan></text>
<text x="69.0" y="590.0" font-size="9.5" text-anchor="middle" font-weight="normal" fill="#000" stroke="#000" stroke-width="0.24" >RhoA</text>
<text x="71.2" y="600.6" font-size="9.5" text-anchor="middle" font-weight="normal" fill="#000" stroke="#000" stroke-width="0.24" >RhoB dKO</text>
<text x="151.6" y="517.5" font-size="11.8" text-anchor="start" font-weight="bold" fill="#000" stroke="#000" stroke-width="0.2" >H</text>
<line x1="161.20" y1="522.60" x2="163.80" y2="522.60" stroke="#222" stroke-width="1.1" />
<line x1="161.20" y1="530.00" x2="163.80" y2="530.00" stroke="#222" stroke-width="1.1" />
<line x1="181.60" y1="522.20" x2="185.80" y2="522.20" stroke="#1a1a1a" stroke-width="1.15" />
<line x1="183.70" y1="520.10" x2="183.70" y2="524.30" stroke="#1a1a1a" stroke-width="1.15" />
<line x1="182.40" y1="530.00" x2="185.00" y2="530.00" stroke="#222" stroke-width="1.1" />
<line x1="207.40" y1="522.60" x2="210.00" y2="522.60" stroke="#222" stroke-width="1.1" />
<line x1="206.60" y1="529.60" x2="210.80" y2="529.60" stroke="#1a1a1a" stroke-width="1.15" />
<line x1="208.70" y1="527.50" x2="208.70" y2="531.70" stroke="#1a1a1a" stroke-width="1.15" />
<line x1="229.60" y1="522.60" x2="232.20" y2="522.60" stroke="#222" stroke-width="1.1" />
<line x1="229.60" y1="530.00" x2="232.20" y2="530.00" stroke="#222" stroke-width="1.1" />
<line x1="250.60" y1="522.20" x2="254.80" y2="522.20" stroke="#1a1a1a" stroke-width="1.15" />
<line x1="252.70" y1="520.10" x2="252.70" y2="524.30" stroke="#1a1a1a" stroke-width="1.15" />
<line x1="251.40" y1="530.00" x2="254.00" y2="530.00" stroke="#222" stroke-width="1.1" />
<line x1="276.40" y1="522.60" x2="279.00" y2="522.60" stroke="#222" stroke-width="1.1" />
<line x1="275.60" y1="529.60" x2="279.80" y2="529.60" stroke="#1a1a1a" stroke-width="1.15" />
<line x1="277.70" y1="527.50" x2="277.70" y2="531.70" stroke="#1a1a1a" stroke-width="1.15" />
<text x="288.5" y="525.2" font-size="9.5" text-anchor="start" font-weight="normal" fill="#000" stroke="#000" stroke-width="0.24" >TNFα</text>
<text x="289.0" y="533.9" font-size="9.5" text-anchor="start" font-weight="normal" fill="#000" stroke="#000" stroke-width="0.24" >PMA</text>
<g clip-path="url(#cH1)"><clipPath id="cH1"><rect x="152" y="535.5" width="135.7" height="11.9"/></clipPath>
<rect x="152" y="535.5" width="135.7" height="11.9" fill="#b2b2b2"/>
<g filter="url(#bl)">
<rect x="201.5" y="540.1" width="18.0" height="3.2" rx="1.6" fill="#0c0c0c" opacity="0.97"/>
<rect x="269.0" y="539.7" width="19.0" height="3.2" rx="1.6" fill="#0c0c0c" opacity="0.97"/>
</g>
<rect x="150" y="533.5" width="139.7" height="15.9" filter="url(#noise)" opacity="0.22"/>
</g>
<g clip-path="url(#cH2)"><clipPath id="cH2"><rect x="152" y="550.8" width="135.7" height="12.5"/></clipPath>
<rect x="152" y="550.8" width="135.7" height="12.5" fill="#aeaeae"/>
<g filter="url(#bl)">
<rect x="201.7" y="554.4" width="16.0" height="4.2" rx="2.1" fill="#111" opacity="0.95"/>
<rect x="271.0" y="554.7" width="16.0" height="3.4" rx="1.7" fill="#333" opacity="0.8"/>
</g>
<rect x="150" y="548.8" width="139.7" height="16.5" filter="url(#noise)" opacity="0.22"/>
</g>
<g clip-path="url(#cH3)"><clipPath id="cH3"><rect x="152" y="566.0" width="135.7" height="12.0"/></clipPath>
<rect x="152" y="566.0" width="135.7" height="12.0" fill="#828282"/>
<g filter="url(#bl)">
<rect x="145.0" y="569.8" width="150.0" height="4.8" rx="2.4" fill="#0c0c0c" opacity="0.95"/>
<rect x="153.0" y="568.5" width="26.0" height="7.0" rx="3.5" fill="#0a0a0a" opacity="0.9"/>
</g>
<rect x="150" y="564.0" width="139.7" height="16.0" filter="url(#noise)" opacity="0.6"/>
</g>
<text x="289.0" y="544.2" font-size="9.5" text-anchor="start" font-weight="normal" fill="#000" stroke="#000" stroke-width="0.24" >pSer316</text>
<text x="289.0" y="560.2" font-size="9.5" text-anchor="start" font-weight="normal" fill="#000" stroke="#000" stroke-width="0.24" >pSer329</text>
<text x="289.0" y="575.6" font-size="9.5" text-anchor="start" font-weight="normal" fill="#000" stroke="#000" stroke-width="0.24" >p47<tspan dy="-3" font-size="5.6" font-style="italic" stroke-width="0.15" fill="#222">phox</tspan></text>
<line x1="153.80" y1="580.00" x2="218.30" y2="580.00" stroke="#000" stroke-width="1.5" />
<line x1="221.20" y1="580.00" x2="284.40" y2="580.00" stroke="#000" stroke-width="1.5" />
<text x="186.5" y="595.2" font-size="9.5" text-anchor="middle" font-weight="normal" fill="#000" stroke="#000" stroke-width="0.24" >RhoB KO<tspan dy="-3" font-size="5.5" stroke-width="0.1" >2</tspan></text>
<text x="246.0" y="590.2" font-size="9.5" text-anchor="middle" font-weight="normal" fill="#000" stroke="#000" stroke-width="0.24" >RhoA</text>
<text x="248.4" y="600.6" font-size="9.5" text-anchor="middle" font-weight="normal" fill="#000" stroke="#000" stroke-width="0.24" >RhoB dKO</text>
<rect x="349.3" y="509.4" width="2.5" height="7.9" fill="#000"/>
<line x1="363.70" y1="522.00" x2="366.30" y2="522.00" stroke="#222" stroke-width="1.1" />
<line x1="363.70" y1="531.80" x2="366.30" y2="531.80" stroke="#222" stroke-width="1.1" />
<line x1="385.00" y1="521.60" x2="389.20" y2="521.60" stroke="#1a1a1a" stroke-width="1.15" />
<line x1="387.10" y1="519.50" x2="387.10" y2="523.70" stroke="#1a1a1a" stroke-width="1.15" />
<line x1="385.80" y1="531.80" x2="388.40" y2="531.80" stroke="#222" stroke-width="1.1" />
<line x1="408.30" y1="522.00" x2="410.90" y2="522.00" stroke="#222" stroke-width="1.1" />
<line x1="407.50" y1="531.40" x2="411.70" y2="531.40" stroke="#1a1a1a" stroke-width="1.15" />
<line x1="409.60" y1="529.30" x2="409.60" y2="533.50" stroke="#1a1a1a" stroke-width="1.15" />
<line x1="430.70" y1="522.00" x2="433.30" y2="522.00" stroke="#222" stroke-width="1.1" />
<line x1="430.70" y1="531.80" x2="433.30" y2="531.80" stroke="#222" stroke-width="1.1" />
<line x1="451.60" y1="521.60" x2="455.80" y2="521.60" stroke="#1a1a1a" stroke-width="1.15" />
<line x1="453.70" y1="519.50" x2="453.70" y2="523.70" stroke="#1a1a1a" stroke-width="1.15" />
<line x1="452.40" y1="531.80" x2="455.00" y2="531.80" stroke="#222" stroke-width="1.1" />
<line x1="474.50" y1="522.00" x2="477.10" y2="522.00" stroke="#222" stroke-width="1.1" />
<line x1="473.70" y1="531.40" x2="477.90" y2="531.40" stroke="#1a1a1a" stroke-width="1.15" />
<line x1="475.80" y1="529.30" x2="475.80" y2="533.50" stroke="#1a1a1a" stroke-width="1.15" />
<text x="491.5" y="525.2" font-size="9.5" text-anchor="start" font-weight="normal" fill="#000" stroke="#000" stroke-width="0.24" >TNFα</text>
<text x="492.5" y="534.8" font-size="9.5" text-anchor="start" font-weight="normal" fill="#000" stroke="#000" stroke-width="0.24" >fMLF</text>
<g clip-path="url(#cI1)"><clipPath id="cI1"><rect x="354.8" y="536.3" width="134.8" height="15.3"/></clipPath>
<rect x="354.8" y="536.3" width="134.8" height="15.3" fill="#8e8e8e"/>
<g filter="url(#bl)">
<rect x="376.5" y="540.3" width="19.0" height="3.0" rx="1.5" fill="#1e1e1e" opacity="0.9"/>
<rect x="398.9" y="539.4" width="19.5" height="6.8" rx="3.4" fill="#0e0e0e" opacity="0.96"/>
<rect x="423.0" y="540.6" width="16.0" height="2.0" rx="1.0" fill="#333" opacity="0.5"/>
<rect x="442.0" y="538.8" width="22.0" height="8.0" rx="4.0" fill="#0a0a0a" opacity="0.97"/>
<rect x="464.5" y="538.1" width="24.0" height="9.0" rx="4.5" fill="#0a0a0a" opacity="0.97"/>
</g>
<rect x="352.8" y="534.3" width="138.8" height="19.3" filter="url(#noise)" opacity="0.4"/>
</g>
<g clip-path="url(#cI2)"><clipPath id="cI2"><rect x="354.8" y="553.1" width="134.8" height="14.9"/></clipPath>
<rect x="354.8" y="553.1" width="134.8" height="14.9" fill="#989898"/>
<g filter="url(#bl)">
<rect x="352.0" y="558.3" width="136.0" height="2.6" rx="1.3" fill="#222" opacity="0.6"/>
<rect x="355.5" y="557.4" width="21.0" height="4.4" rx="2.2" fill="#0c0c0c" opacity="0.97"/>
<rect x="376.5" y="556.9" width="21.0" height="5.0" rx="2.5" fill="#080808" opacity="1"/>
<rect x="398.5" y="557.2" width="21.0" height="4.4" rx="2.2" fill="#0c0c0c" opacity="0.97"/>
<rect x="400.5" y="563.0" width="17.0" height="2.4" rx="1.2" fill="#333" opacity="0.6"/>
<rect x="421.0" y="556.8" width="20.0" height="4.0" rx="2.0" fill="#0c0c0c" opacity="0.97"/>
<rect x="423.0" y="562.3" width="16.0" height="2.2" rx="1.1" fill="#444" opacity="0.5"/>
<rect x="443.0" y="556.6" width="20.0" height="3.6" rx="1.8" fill="#0c0c0c" opacity="0.97"/>
<rect x="465.5" y="556.7" width="21.0" height="3.8" rx="1.9" fill="#0c0c0c" opacity="0.97"/>
<rect x="467.0" y="562.2" width="18.0" height="2.4" rx="1.2" fill="#333" opacity="0.6"/>
</g>
<rect x="352.8" y="551.1" width="138.8" height="18.9" filter="url(#noise)" opacity="0.4"/>
</g>
<text x="492.0" y="546.4" font-size="9.5" text-anchor="start" font-weight="normal" fill="#000" stroke="#000" stroke-width="0.24" >pErk</text>
<text x="492.0" y="562.3" font-size="9.5" text-anchor="start" font-weight="normal" fill="#000" stroke="#000" stroke-width="0.24" >Erk</text>
<line x1="356.30" y1="570.00" x2="420.40" y2="570.00" stroke="#000" stroke-width="1.5" />
<line x1="423.00" y1="570.00" x2="487.00" y2="570.00" stroke="#000" stroke-width="1.5" />
<text x="388.7" y="584.8" font-size="9.5" text-anchor="middle" font-weight="normal" fill="#000" stroke="#000" stroke-width="0.24" >RhoB KO<tspan dy="-3" font-size="5.5" stroke-width="0.1" >2</tspan></text>
<text x="449.8" y="580.0" font-size="9.5" text-anchor="middle" font-weight="normal" fill="#000" stroke="#000" stroke-width="0.24" >RhoA</text>
<text x="450.3" y="590.6" font-size="9.5" text-anchor="middle" font-weight="normal" fill="#000" stroke="#000" stroke-width="0.24" >RhoB dKO</text>
</g>
</svg>
</body></html>
